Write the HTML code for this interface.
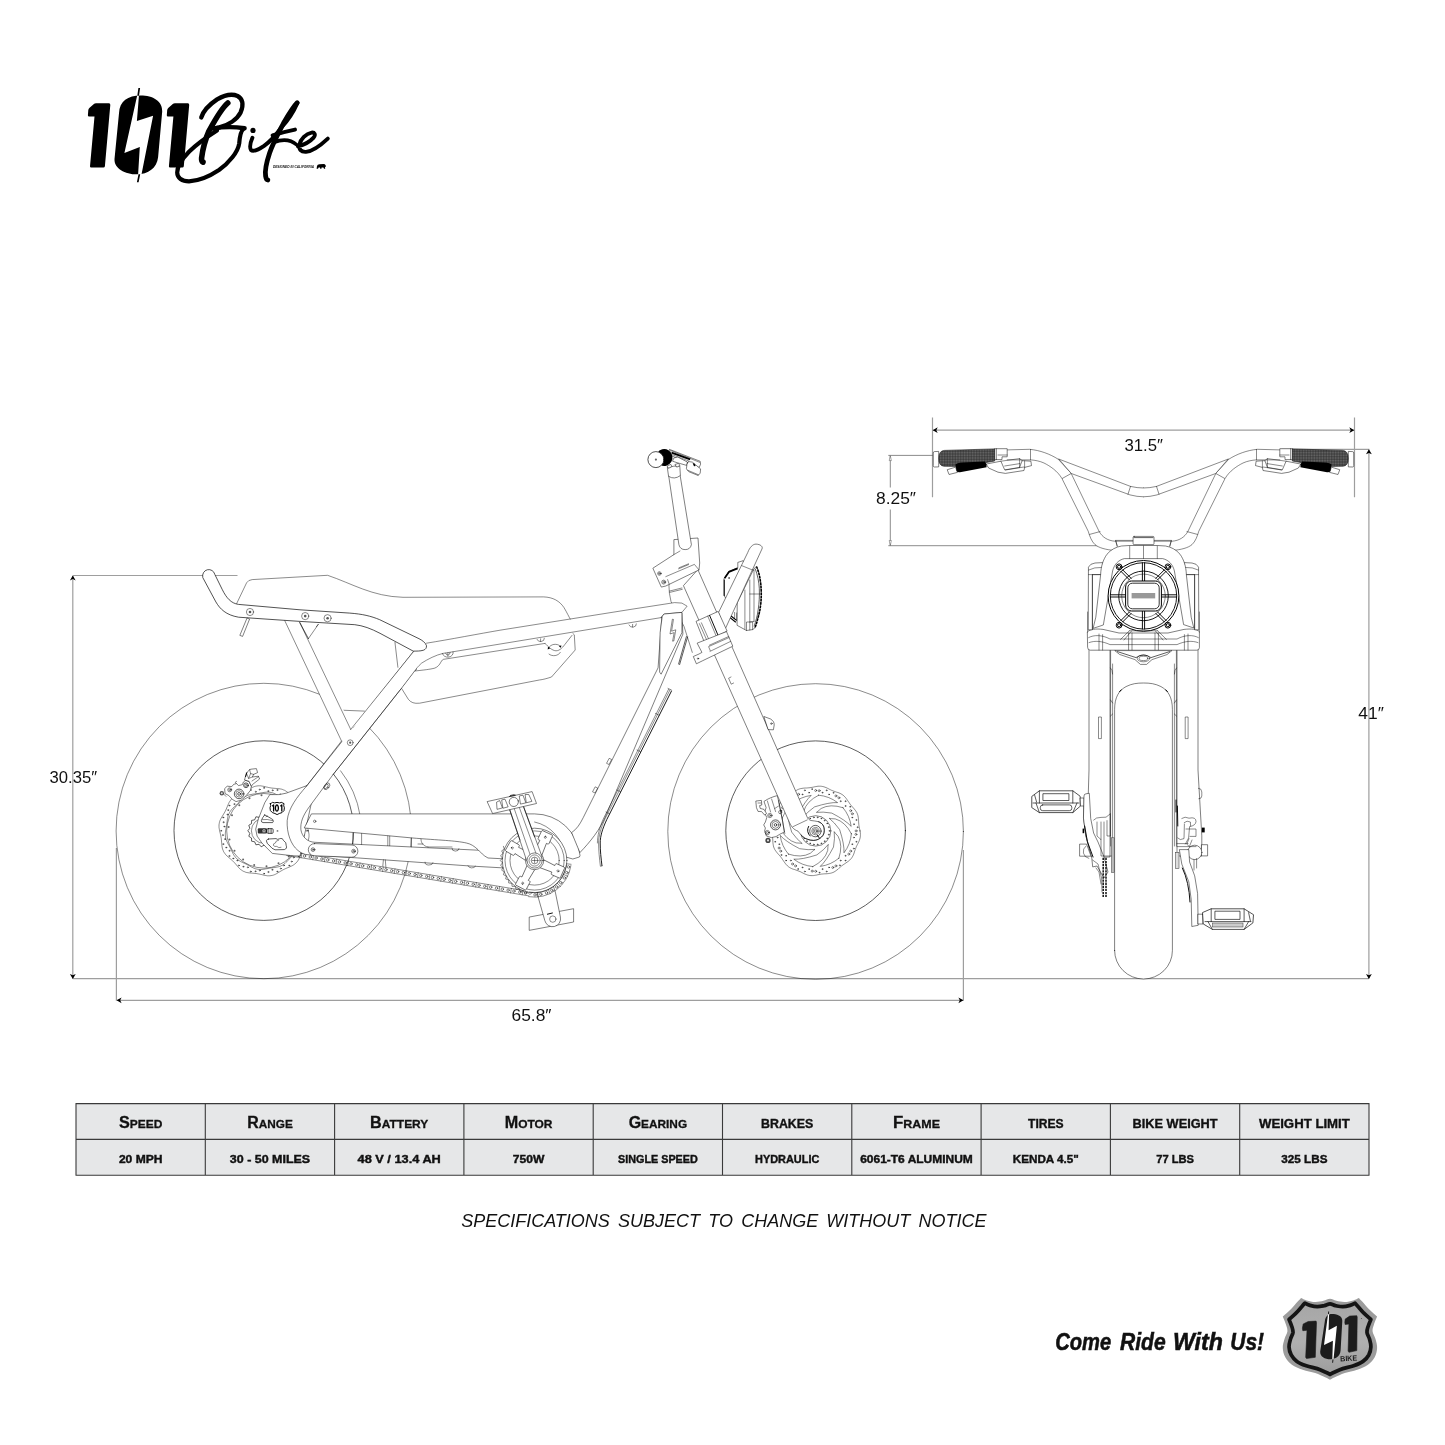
<!DOCTYPE html>
<html><head><meta charset="utf-8"><title>101 Bike specifications</title>
<style>
html,body{margin:0;padding:0;background:#fff;}
body{width:1445px;height:1445px;overflow:hidden;position:relative;font-family:"Liberation Sans",sans-serif;}
svg{position:absolute;left:0;top:0;will-change:transform;}
svg text{font-family:"Liberation Sans",sans-serif;}
.t{fill:none;stroke:#000;stroke-width:.46;stroke-linecap:round;stroke-linejoin:round}
.m{fill:none;stroke:#000;stroke-width:.64;stroke-linecap:round;stroke-linejoin:round}
.k{fill:none;stroke:#000;stroke-width:.95;stroke-linecap:round;stroke-linejoin:round}
.w{fill:#fff;stroke:#000;stroke-width:.5;stroke-linecap:round;stroke-linejoin:round}
.wm{fill:#fff;stroke:#000;stroke-width:.68;stroke-linecap:round;stroke-linejoin:round}
.d{fill:none;stroke:#9e9e9e;stroke-width:1.2}
.d2{fill:none;stroke:#6e6e6e;stroke-width:.8}
.b{fill:#000;stroke:none}
.dim{font-size:16.5px;fill:#111}
</style></head><body>
<svg width="1445" height="1445" viewBox="0 0 1445 1445">
<!-- logo.svg -->
<g id="logo">
<defs><path id="one" d="M87.9 115.3 L88.3 109.9 Q88.6 108.6 89.6 107.8 L94.2 103.8 Q94.9 103.3 96 103.3 L109 103.3 Q110.4 103.4 110.3 104.9 L104.9 166.2 Q104.7 167.6 103.4 167.6 L91.2 167.6 Q89.9 167.6 90 166.2 L94.5 116.5 L89.1 116.5 Q87.8 116.5 87.9 115.3 Z"/></defs>
<use href="#one" fill="#000"/>
<use href="#one" fill="#000" transform="translate(78.9 0)"/>
<path fill="#000" d="M119 113.2 C119.5 101 128 95.4 140.6 95.4 C153 95.4 162.8 101 162.2 111.6 L158.1 157.2 C157 168 148 174.3 137 174.3 C125 174.3 114 168.5 114.5 158.9 Z"/>
<path fill="#fff" d="M137.3 95 L139 95 L136.9 121.1 L153.1 115.7 L141.5 174.6 L138.1 174.6 L139.8 146.9 L124.4 153.1 Z"/>
<path fill="#000" d="M138.4 87.9 L140.1 87.9 L139 95.8 L137.3 95.8 Z M140.2 174.3 L138.5 174.3 L136.9 182.2 L138.6 182.2 Z"/>
<!-- script Bike -->
<g fill="none" stroke="#000" stroke-linecap="round" stroke-linejoin="round">
<path stroke-width="5.6" d="M227.8 103 C222 108 216 118 209 131 C205 140 202.6 150 201.6 158 C201.4 160.5 202 161.8 203 162.2"/>
<path stroke-width="4.4" d="M201.3 117.4 C203 112 208 105.5 217.1 99.4 C224 95.4 232 93.6 237.6 96 C242.6 98.6 244 104.5 240.6 112.4 C237 119.5 228 125 219.4 127.4 L213.6 128.6"/>
<path stroke-width="4.4" d="M213.8 128.4 C222 127 232 126.4 244.6 128.2"/>
<path stroke-width="4.2" d="M243.4 128.8 C240.6 131 239.8 136 239.2 143.5 C238 152 229 163 219 170 C210 176 198 181 189 181.3 C182 181.3 177.2 178 177.2 172.6 C177.2 166 182 159 189 151.8 C196 145 206 137.6 217 130.6"/>
<circle cx="253" cy="130.4" r="2.6" fill="#000" stroke="none"/>
<path stroke-width="3.9" d="M252.4 137.8 C250.6 142 249.4 147.4 251 150 C253 152 259 149.4 264.1 145.9 C270 141.6 276 135 281 128 C288.5 120 294 111 297.4 103"/>
<path stroke-width="4.8" d="M297.2 102.8 C293 107 288 115.5 283.6 123 C279 132 273 143 269.6 153 C266.6 162 264.8 171 265.6 176 C266 178.6 266.8 179.8 267.8 180"/>
<path stroke-width="4" d="M272.6 135.4 C280 133 288 131 295 129.6"/>
<path stroke-width="3.6" d="M274 142.4 C282 139 290 139 297 145"/>
<path stroke-width="3.9" d="M298 146.4 C303 145 310 141.6 313.6 137.6 C316 134.6 314.6 132.2 311.6 132.6 C306 133.6 300.6 139 299.4 144.6 C298.6 149.4 301 152.2 306 151.9 C313 151.2 321 145 327.8 138.6"/>
</g>
<text x="272.9" y="168.1" font-size="3.5" font-weight="700" font-style="italic" fill="#111" textLength="41.2" lengthAdjust="spacingAndGlyphs">DESIGNED IN CALIFORNIA</text>
<path fill="#000" d="M316.6 168.8 L317 166 Q317.4 164.4 319.4 164.3 L323.6 164.1 Q325 164.2 325.6 165.2 L326 166.4 L325 167 L325.2 168.8 L324 168.8 L323.4 167.4 L321.6 167.4 L321.4 168.8 L320.2 168.8 L320 167.6 L318.6 167.6 L318 168.8 Z"/>
</g>

<!-- dims.svg -->
<g id="dims">
<defs>
<path id="ah" d="M0 0 L-2.9 5 L0 3.6 L2.9 5 Z" fill="#000"/>
<path id="aho" d="M0 0 L-1.1 5 L1.1 5 Z" fill="#fff" stroke="#555" stroke-width=".5"/>
</defs>
<!-- ground line -->
<path class="d" d="M72.8 978.7 H1368.9"/>
<!-- left height -->
<path class="d" d="M72.8 576 V978.5 M72.8 575.5 H237.5"/>
<use href="#ah" transform="translate(72.8 575.5)"/>
<use href="#ah" transform="translate(72.8 978.9) rotate(180)"/>
<text class="dim" x="49.6" y="783.4" style="font-size:17px" textLength="47.5" lengthAdjust="spacingAndGlyphs">30.35″</text>
<!-- bottom length -->
<path class="d" d="M116.4 848 V1000.8 M963.4 850 V1000.8 M117 1000.3 H963"/>
<use href="#ah" transform="translate(116.6 1000.3) rotate(-90)"/>
<use href="#ah" transform="translate(963.4 1000.3) rotate(90)"/>
<text class="dim" x="511.5" y="1021.3" style="font-size:17px" textLength="40" lengthAdjust="spacingAndGlyphs">65.8″</text>
<!-- top width -->
<path class="d" d="M932.5 417.4 V497.2 M1354.5 417.4 V497.2 M933 430.2 H1354"/>
<use href="#ah" transform="translate(932.7 430.2) rotate(-90)"/>
<use href="#ah" transform="translate(1354.3 430.2) rotate(90)"/>
<text class="dim" x="1124.5" y="450.8" style="font-size:16px" textLength="38.5" lengthAdjust="spacingAndGlyphs">31.5″</text>
<!-- 8.25 -->
<path class="d2" d="M888.3 455.4 H933 M888.3 545.7 H1116 M890.3 456 V487.5 M890.3 509.5 V545.3"/>
<use href="#aho" transform="translate(890.3 455.6)"/>
<use href="#aho" transform="translate(890.3 545.5) rotate(180)"/>
<text class="dim" x="876" y="503.8" style="font-size:16px" textLength="40" lengthAdjust="spacingAndGlyphs">8.25″</text>
<!-- 41 -->
<path class="d" d="M1281.4 449.3 H1369.4 M1368.9 450 V978.5"/>
<use href="#ah" transform="translate(1368.9 449.3)"/>
<use href="#ah" transform="translate(1368.9 978.9) rotate(180)"/>
<text class="dim" x="1358.3" y="718.9" style="font-size:16px" textLength="25.5" lengthAdjust="spacingAndGlyphs">41″</text>
</g>

<!-- side.svg -->
<g id="side">
<circle class="t" cx="263.8" cy="831" r="147.7"/>
<circle class="m" cx="263.8" cy="830.6" r="89.8"/>
<circle class="t" cx="815.6" cy="831.5" r="147.8"/>
<circle class="m" cx="815.6" cy="830.7" r="89.8"/>
<path class="t" d="M340.6 770.8 A97.5 97.5 0 0 1 360.1 815.5"/>
<g id="rrotor">
<path class="t" d="M308.4 830.8 L308.6 832 L308.8 833.1 L309 834.3 L309 835.5 L309 836.7 L308.8 837.9 L308.6 839.1 L308.3 840.2 L307.9 841.3 L307.4 842.4 L306.8 843.5 L306.2 844.5 L305.6 845.5 L305 846.5 L304.4 847.5 L303.8 848.5 L303.2 849.5 L302.7 850.5 L302.2 851.5 L301.7 852.6 L301.3 853.6 L300.8 854.7 L300.4 855.8 L299.9 856.9 L299.4 858 L298.9 859.1 L298.3 860.1 L297.6 861.1 L296.9 862 L296.1 862.9 L295.2 863.7 L294.3 864.4 L293.3 865.1 L292.3 865.7 L291.2 866.2 L290.1 866.7 L289 867.2 L287.9 867.6 L286.8 868.1 L285.8 868.5 L284.7 869 L283.7 869.5 L282.7 870 L281.7 870.6 L280.7 871.2 L279.7 871.8 L278.7 872.4 L277.7 873 L276.7 873.6 L275.6 874.2 L274.5 874.7 L273.4 875.1 L272.3 875.4 L271.1 875.6 L269.9 875.8 L268.7 875.8 L267.5 875.8 L266.3 875.6 L265.2 875.4 L264 875.2 L262.8 874.9 L261.7 874.6 L260.6 874.4 L259.4 874.1 L258.3 873.9 L257.2 873.7 L256.1 873.5 L254.9 873.4 L253.8 873.3 L252.6 873.2 L251.5 873.1 L250.3 873 L249.1 872.9 L247.9 872.7 L246.7 872.5 L245.6 872.2 L244.5 871.7 L243.4 871.3 L242.4 870.7 L241.4 870 L240.4 869.3 L239.5 868.5 L238.7 867.6 L237.9 866.7 L237.1 865.8 L236.4 864.9 L235.6 864 L234.9 863.2 L234.1 862.3 L233.3 861.5 L232.5 860.7 L231.6 859.9 L230.8 859.2 L229.9 858.4 L229 857.7 L228.1 856.9 L227.2 856.1 L226.3 855.3 L225.5 854.4 L224.8 853.4 L224.1 852.4 L223.5 851.4 L223.1 850.3 L222.6 849.2 L222.3 848.1 L222.1 846.9 L221.9 845.7 L221.8 844.5 L221.7 843.3 L221.6 842.2 L221.5 841 L221.4 839.9 L221.3 838.7 L221.1 837.6 L220.9 836.5 L220.7 835.4 L220.4 834.2 L220.2 833.1 L219.9 832 L219.6 830.8 L219.4 829.6 L219.2 828.5 L219 827.3 L219 826.1 L219 824.9 L219.2 823.7 L219.4 822.5 L219.7 821.4 L220.1 820.3 L220.6 819.2 L221.2 818.1 L221.8 817.1 L222.4 816.1 L223 815.1 L223.6 814.1 L224.2 813.1 L224.8 812.1 L225.3 811.1 L225.8 810.1 L226.3 809 L226.7 808 L227.2 806.9 L227.6 805.8 L228.1 804.7 L228.6 803.6 L229.1 802.5 L229.7 801.5 L230.4 800.5 L231.1 799.6 L231.9 798.7 L232.8 797.9 L233.7 797.2 L234.7 796.5 L235.7 795.9 L236.8 795.4 L237.9 794.9 L239 794.4 L240.1 794 L241.2 793.5 L242.2 793.1 L243.3 792.6 L244.3 792.1 L245.3 791.6 L246.3 791 L247.3 790.4 L248.3 789.8 L249.3 789.2 L250.3 788.6 L251.3 788 L252.4 787.4 L253.5 786.9 L254.6 786.5 L255.7 786.2 L256.9 786 L258.1 785.8 L259.3 785.8 L260.5 785.8 L261.7 786 L262.8 786.2 L264 786.4 L265.2 786.7 L266.3 787 L267.4 787.2 L268.6 787.5 L269.7 787.7 L270.8 787.9 L271.9 788.1 L273.1 788.2 L274.2 788.3 L275.4 788.4 L276.5 788.5 L277.7 788.6 L278.9 788.7 L280.1 788.9 L281.3 789.1 L282.4 789.4 L283.5 789.9 L284.6 790.3 L285.6 790.9 L286.6 791.6 L287.6 792.3 L288.5 793.1 L289.3 794 L290.1 794.9 L290.9 795.8 L291.6 796.7 L292.4 797.6 L293.1 798.4 L293.9 799.3 L294.7 800.1 L295.5 800.9 L296.4 801.7 L297.2 802.4 L298.1 803.2 L299 803.9 L299.9 804.7 L300.8 805.5 L301.7 806.3 L302.5 807.2 L303.2 808.2 L303.9 809.2 L304.5 810.2 L304.9 811.3 L305.4 812.4 L305.7 813.5 L305.9 814.7 L306.1 815.9 L306.2 817.1 L306.3 818.3 L306.4 819.4 L306.5 820.6 L306.6 821.7 L306.7 822.9 L306.9 824 L307.1 825.1 L307.3 826.2 L307.6 827.4 L307.8 828.5 L308.1 829.6 L308.4 830.8Z"/>
<path class="t" d="M302.4 830.8 L302.2 831.8 L302 832.8 L301.9 833.8 L301.7 834.8 L301.5 835.7 L301.3 836.7 L301.2 837.7 L301.1 838.7 L300.9 839.7 L300.8 840.7 L300.7 841.7 L300.5 842.7 L300.3 843.7 L300.1 844.7 L299.9 845.7 L299.6 846.6 L299.2 847.6 L298.7 848.5 L298.3 849.4 L297.7 850.3 L297.1 851.1 L296.5 851.9 L295.8 852.6 L295.1 853.4 L294.3 854.1 L293.6 854.8 L292.9 855.5 L292.2 856.1 L291.4 856.8 L290.7 857.5 L290 858.2 L289.3 859 L288.7 859.7 L288 860.4 L287.3 861.1 L286.6 861.9 L285.8 862.6 L285.1 863.3 L284.3 863.9 L283.5 864.5 L282.6 865.1 L281.7 865.5 L280.8 866 L279.8 866.4 L278.9 866.7 L277.9 866.9 L276.9 867.1 L275.9 867.3 L274.9 867.5 L273.9 867.6 L272.9 867.7 L271.9 867.9 L270.9 868 L269.9 868.1 L268.9 868.3 L268 868.5 L267 868.7 L266 868.8 L265 869 L264 869.2 L263 869.3 L262 869.4 L261 869.5 L259.9 869.5 L258.9 869.4 L257.9 869.3 L256.9 869.1 L255.9 868.9 L254.9 868.6 L254 868.2 L253 867.8 L252.1 867.3 L251.2 866.9 L250.3 866.4 L249.5 865.9 L248.6 865.4 L247.7 864.9 L246.8 864.5 L246 864 L245.1 863.6 L244.2 863.2 L243.2 862.8 L242.3 862.3 L241.4 861.9 L240.5 861.4 L239.6 860.9 L238.8 860.3 L238 859.7 L237.2 859.1 L236.4 858.4 L235.7 857.6 L235.1 856.8 L234.5 856 L233.9 855.2 L233.4 854.3 L232.9 853.4 L232.5 852.5 L232 851.6 L231.6 850.6 L231.2 849.7 L230.8 848.8 L230.3 848 L229.9 847.1 L229.4 846.2 L228.9 845.3 L228.4 844.5 L227.9 843.6 L227.5 842.7 L227 841.8 L226.6 840.8 L226.2 839.9 L225.9 838.9 L225.7 837.9 L225.5 836.9 L225.4 835.9 L225.3 834.9 L225.3 833.8 L225.4 832.8 L225.5 831.8 L225.6 830.8 L225.8 829.8 L226 828.8 L226.1 827.8 L226.3 826.8 L226.5 825.9 L226.7 824.9 L226.8 823.9 L226.9 822.9 L227.1 821.9 L227.2 820.9 L227.3 819.9 L227.5 818.9 L227.7 817.9 L227.9 816.9 L228.1 815.9 L228.4 815 L228.8 814 L229.3 813.1 L229.7 812.2 L230.3 811.3 L230.9 810.5 L231.5 809.7 L232.2 809 L232.9 808.2 L233.7 807.5 L234.4 806.8 L235.1 806.1 L235.8 805.5 L236.6 804.8 L237.3 804.1 L238 803.4 L238.7 802.6 L239.3 801.9 L240 801.2 L240.7 800.5 L241.4 799.7 L242.2 799 L242.9 798.3 L243.7 797.7 L244.5 797.1 L245.4 796.5 L246.3 796.1 L247.2 795.6 L248.2 795.2 L249.1 794.9 L250.1 794.7 L251.1 794.5 L252.1 794.3 L253.1 794.1 L254.1 794 L255.1 793.9 L256.1 793.7 L257.1 793.6 L258.1 793.5 L259.1 793.3 L260 793.1 L261 792.9 L262 792.8 L263 792.6 L264 792.4 L265 792.3 L266 792.2 L267 792.1 L268.1 792.1 L269.1 792.2 L270.1 792.3 L271.1 792.5 L272.1 792.7 L273.1 793 L274 793.4 L275 793.8 L275.9 794.3 L276.8 794.7 L277.7 795.2 L278.5 795.7 L279.4 796.2 L280.3 796.7 L281.2 797.1 L282 797.6 L282.9 798 L283.8 798.4 L284.8 798.8 L285.7 799.3 L286.6 799.7 L287.5 800.2 L288.4 800.7 L289.2 801.3 L290 801.9 L290.8 802.5 L291.6 803.2 L292.3 804 L292.9 804.8 L293.5 805.6 L294.1 806.4 L294.6 807.3 L295.1 808.2 L295.5 809.1 L296 810 L296.4 811 L296.8 811.9 L297.2 812.8 L297.7 813.6 L298.1 814.5 L298.6 815.4 L299.1 816.3 L299.6 817.1 L300.1 818 L300.5 818.9 L301 819.8 L301.4 820.8 L301.8 821.7 L302.1 822.7 L302.3 823.7 L302.5 824.7 L302.6 825.7 L302.7 826.7 L302.7 827.8 L302.6 828.8 L302.5 829.8 L302.4 830.8Z"/>
<circle cx="306.9" cy="830.8" r=".55" class="t"/>
<circle cx="303.7" cy="835" r=".55" class="t"/>
<circle cx="304.5" cy="839.4" r=".55" class="t"/>
<circle cx="304.8" cy="844.1" r=".55" class="t"/>
<circle cx="300.5" cy="847" r=".55" class="t"/>
<circle cx="299.9" cy="851.5" r=".55" class="t"/>
<circle cx="298.7" cy="856" r=".55" class="t"/>
<circle cx="293.7" cy="857.5" r=".55" class="t"/>
<circle cx="291.7" cy="861.6" r=".55" class="t"/>
<circle cx="289.2" cy="865.5" r=".55" class="t"/>
<circle cx="283.9" cy="865.4" r=".55" class="t"/>
<circle cx="280.8" cy="868.6" r=".55" class="t"/>
<circle cx="277.3" cy="871.6" r=".55" class="t"/>
<circle cx="272.3" cy="869.8" r=".55" class="t"/>
<circle cx="268.3" cy="872" r=".55" class="t"/>
<circle cx="264" cy="873.7" r=".55" class="t"/>
<circle cx="259.8" cy="870.5" r=".55" class="t"/>
<circle cx="255.4" cy="871.3" r=".55" class="t"/>
<circle cx="250.7" cy="871.6" r=".55" class="t"/>
<circle cx="247.8" cy="867.3" r=".55" class="t"/>
<circle cx="243.3" cy="866.7" r=".55" class="t"/>
<circle cx="238.8" cy="865.5" r=".55" class="t"/>
<circle cx="237.3" cy="860.5" r=".55" class="t"/>
<circle cx="233.2" cy="858.5" r=".55" class="t"/>
<circle cx="229.3" cy="856" r=".55" class="t"/>
<circle cx="229.4" cy="850.8" r=".55" class="t"/>
<circle cx="226.2" cy="847.6" r=".55" class="t"/>
<circle cx="223.2" cy="844.1" r=".55" class="t"/>
<circle cx="225" cy="839.1" r=".55" class="t"/>
<circle cx="222.8" cy="835.1" r=".55" class="t"/>
<circle cx="221.1" cy="830.8" r=".55" class="t"/>
<circle cx="224.3" cy="826.6" r=".55" class="t"/>
<circle cx="223.5" cy="822.2" r=".55" class="t"/>
<circle cx="223.2" cy="817.5" r=".55" class="t"/>
<circle cx="227.5" cy="814.6" r=".55" class="t"/>
<circle cx="228.1" cy="810.1" r=".55" class="t"/>
<circle cx="229.3" cy="805.6" r=".55" class="t"/>
<circle cx="234.3" cy="804.1" r=".55" class="t"/>
<circle cx="236.3" cy="800" r=".55" class="t"/>
<circle cx="238.8" cy="796.1" r=".55" class="t"/>
<circle cx="244" cy="796.2" r=".55" class="t"/>
<circle cx="247.2" cy="793" r=".55" class="t"/>
<circle cx="250.7" cy="790" r=".55" class="t"/>
<circle cx="255.7" cy="791.8" r=".55" class="t"/>
<circle cx="259.7" cy="789.6" r=".55" class="t"/>
<circle cx="264" cy="787.9" r=".55" class="t"/>
<circle cx="268.2" cy="791.1" r=".55" class="t"/>
<circle cx="272.6" cy="790.3" r=".55" class="t"/>
<circle cx="277.3" cy="790" r=".55" class="t"/>
<circle cx="280.2" cy="794.3" r=".55" class="t"/>
<circle cx="284.7" cy="794.9" r=".55" class="t"/>
<circle cx="289.2" cy="796.1" r=".55" class="t"/>
<circle cx="290.7" cy="801.1" r=".55" class="t"/>
<circle cx="294.8" cy="803.1" r=".55" class="t"/>
<circle cx="298.7" cy="805.6" r=".55" class="t"/>
<circle cx="298.6" cy="810.9" r=".55" class="t"/>
<circle cx="301.8" cy="814" r=".55" class="t"/>
<circle cx="304.8" cy="817.5" r=".55" class="t"/>
<circle cx="303" cy="822.5" r=".55" class="t"/>
<circle cx="305.2" cy="826.5" r=".55" class="t"/>
<circle class="t" cx="264" cy="830.8" r="37.3"/>
<circle cx="299.4" cy="834.5" r="1" fill="#666"/>
<circle cx="296" cy="846.4" r="1" fill="#666"/>
<circle cx="288.7" cy="856.4" r="1" fill="#666"/>
<circle cx="278.5" cy="863.3" r="1" fill="#666"/>
<circle cx="266.5" cy="866.3" r="1" fill="#666"/>
<circle cx="254.2" cy="865" r="1" fill="#666"/>
<circle cx="243.1" cy="859.6" r="1" fill="#666"/>
<circle cx="234.5" cy="850.7" r="1" fill="#666"/>
<circle cx="229.5" cy="839.4" r="1" fill="#666"/>
<circle cx="228.6" cy="827.1" r="1" fill="#666"/>
<circle cx="232" cy="815.2" r="1" fill="#666"/>
<circle cx="239.3" cy="805.2" r="1" fill="#666"/>
<circle cx="249.5" cy="798.3" r="1" fill="#666"/>
<circle cx="261.5" cy="795.3" r="1" fill="#666"/>
<circle cx="273.8" cy="796.6" r="1" fill="#666"/>
<circle cx="284.9" cy="802" r="1" fill="#666"/>
<circle cx="293.5" cy="810.9" r="1" fill="#666"/>
<circle cx="298.5" cy="822.2" r="1" fill="#666"/>
</g>
<path class="m" d="M280.2 830.8 L278.2 833.3 L279.2 836.3 L276.5 838 L276.4 841.2 L273.3 841.8 L272.1 844.8 L268.9 844.3 L266.8 846.8 L264 845.2 L261.2 846.8 L259.1 844.3 L255.9 844.8 L254.7 841.8 L251.6 841.2 L251.5 838 L248.8 836.3 L249.8 833.3 L247.8 830.8 L249.8 828.3 L248.8 825.3 L251.5 823.6 L251.6 820.4 L254.7 819.8 L255.9 816.8 L259.1 817.3 L261.2 814.8 L264 816.4 L266.8 814.8 L268.9 817.3 L272.1 816.8 L273.3 819.8 L276.4 820.4 L276.5 823.6 L279.2 825.3 L278.2 828.3 L280.2 830.8Z"/>
<circle class="t" cx="264" cy="830.8" r="12.6"/>
<g id="frotor">
<path class="t" d="M860 830.9 L860.2 832.1 L860.4 833.2 L860.4 834.4 L860.4 835.6 L860.3 836.8 L860.1 837.9 L859.8 839.1 L859.4 840.2 L859 841.3 L858.5 842.4 L858 843.4 L857.4 844.5 L856.9 845.5 L856.4 846.5 L856 847.6 L855.6 848.6 L855.2 849.7 L854.8 850.8 L854.4 851.9 L854.1 853 L853.7 854.2 L853.2 855.3 L852.7 856.3 L852.1 857.3 L851.4 858.3 L850.6 859.2 L849.8 860 L848.9 860.8 L848 861.5 L847 862.2 L846 862.9 L845.1 863.5 L844.1 864.2 L843.2 864.8 L842.2 865.5 L841.3 866.2 L840.5 866.9 L839.6 867.7 L838.7 868.5 L837.9 869.3 L836.9 870 L836 870.7 L835 871.4 L834 872 L832.9 872.5 L831.8 872.9 L830.7 873.2 L829.5 873.4 L828.3 873.6 L827.2 873.7 L826 873.8 L824.8 873.8 L823.7 873.9 L822.5 874 L821.4 874.1 L820.3 874.3 L819.1 874.5 L818 874.7 L816.9 875 L815.7 875.2 L814.5 875.4 L813.4 875.6 L812.2 875.6 L811 875.6 L809.8 875.5 L808.7 875.3 L807.5 875 L806.4 874.6 L805.3 874.2 L804.2 873.7 L803.2 873.2 L802.1 872.6 L801.1 872.1 L800.1 871.6 L799 871.2 L798 870.8 L796.9 870.4 L795.8 870 L794.7 869.6 L793.6 869.3 L792.4 868.9 L791.3 868.4 L790.3 867.9 L789.3 867.3 L788.3 866.6 L787.4 865.8 L786.6 865 L785.8 864.1 L785.1 863.2 L784.4 862.2 L783.7 861.2 L783.1 860.3 L782.4 859.3 L781.8 858.4 L781.1 857.4 L780.4 856.5 L779.7 855.7 L778.9 854.8 L778.1 853.9 L777.3 853 L776.6 852.1 L775.9 851.2 L775.2 850.2 L774.6 849.2 L774.1 848.1 L773.7 847 L773.4 845.9 L773.2 844.7 L773 843.5 L772.9 842.4 L772.8 841.2 L772.8 840 L772.7 838.9 L772.6 837.7 L772.5 836.6 L772.3 835.5 L772.1 834.3 L771.9 833.2 L771.6 832.1 L771.4 830.9 L771.2 829.7 L771 828.6 L771 827.4 L771 826.2 L771.1 825 L771.3 823.9 L771.6 822.7 L772 821.6 L772.4 820.5 L772.9 819.4 L773.4 818.4 L774 817.3 L774.5 816.3 L775 815.3 L775.4 814.2 L775.8 813.2 L776.2 812.1 L776.6 811 L777 809.9 L777.3 808.8 L777.7 807.6 L778.2 806.5 L778.7 805.5 L779.3 804.5 L780 803.5 L780.8 802.6 L781.6 801.8 L782.5 801 L783.4 800.3 L784.4 799.6 L785.4 798.9 L786.3 798.3 L787.3 797.6 L788.2 797 L789.2 796.3 L790.1 795.6 L790.9 794.9 L791.8 794.1 L792.7 793.3 L793.6 792.5 L794.5 791.8 L795.4 791.1 L796.4 790.4 L797.4 789.8 L798.5 789.3 L799.6 788.9 L800.7 788.6 L801.9 788.4 L803.1 788.2 L804.2 788.1 L805.4 788 L806.6 788 L807.7 787.9 L808.9 787.8 L810 787.7 L811.1 787.5 L812.3 787.3 L813.4 787.1 L814.5 786.8 L815.7 786.6 L816.9 786.4 L818 786.2 L819.2 786.2 L820.4 786.2 L821.6 786.3 L822.7 786.5 L823.9 786.8 L825 787.2 L826.1 787.6 L827.2 788.1 L828.2 788.6 L829.3 789.2 L830.3 789.7 L831.3 790.2 L832.4 790.6 L833.4 791 L834.5 791.4 L835.6 791.8 L836.7 792.2 L837.9 792.5 L839 792.9 L840.1 793.4 L841.1 793.9 L842.1 794.5 L843.1 795.2 L844 796 L844.8 796.8 L845.6 797.7 L846.3 798.6 L847 799.6 L847.7 800.6 L848.3 801.5 L849 802.5 L849.6 803.4 L850.3 804.4 L851 805.3 L851.7 806.1 L852.5 807 L853.3 807.9 L854.1 808.8 L854.8 809.7 L855.5 810.6 L856.2 811.6 L856.8 812.6 L857.3 813.7 L857.7 814.8 L858 815.9 L858.2 817.1 L858.4 818.3 L858.5 819.4 L858.6 820.6 L858.6 821.8 L858.7 822.9 L858.8 824.1 L858.9 825.2 L859.1 826.3 L859.3 827.5 L859.5 828.6 L859.8 829.7 L860 830.9Z"/>
<circle cx="856.1" cy="830.9" r="1.0" class="t"/>
<circle cx="855.9" cy="834.4" r="1.0" class="t"/>
<circle cx="853.9" cy="837.6" r=".5" class="t"/>
<circle cx="856.3" cy="841.8" r=".5" class="t"/>
<circle cx="852.2" cy="844.2" r=".5" class="t"/>
<circle cx="853.8" cy="848.6" r=".5" class="t"/>
<circle cx="850.7" cy="851.1" r="1.0" class="t"/>
<circle cx="848.8" cy="854.1" r="1.0" class="t"/>
<circle cx="845.4" cy="855.8" r=".5" class="t"/>
<circle cx="845.4" cy="860.6" r=".5" class="t"/>
<circle cx="840.6" cy="860.6" r=".5" class="t"/>
<circle cx="839.8" cy="865.3" r=".5" class="t"/>
<circle cx="835.9" cy="865.9" r="1.0" class="t"/>
<circle cx="832.8" cy="867.5" r="1.0" class="t"/>
<circle cx="829" cy="867.4" r=".5" class="t"/>
<circle cx="826.6" cy="871.5" r=".5" class="t"/>
<circle cx="822.4" cy="869.1" r=".5" class="t"/>
<circle cx="819.4" cy="872.7" r=".5" class="t"/>
<circle cx="815.7" cy="871.3" r="1.0" class="t"/>
<circle cx="812.2" cy="871.1" r="1.0" class="t"/>
<circle cx="809" cy="869.1" r=".5" class="t"/>
<circle cx="804.8" cy="871.5" r=".5" class="t"/>
<circle cx="802.4" cy="867.4" r=".5" class="t"/>
<circle cx="798" cy="869" r=".5" class="t"/>
<circle cx="795.5" cy="865.9" r="1.0" class="t"/>
<circle cx="792.5" cy="864" r="1.0" class="t"/>
<circle cx="790.8" cy="860.6" r=".5" class="t"/>
<circle cx="786" cy="860.6" r=".5" class="t"/>
<circle cx="786" cy="855.8" r=".5" class="t"/>
<circle cx="781.3" cy="855" r=".5" class="t"/>
<circle cx="780.7" cy="851.1" r="1.0" class="t"/>
<circle cx="779.1" cy="848" r="1.0" class="t"/>
<circle cx="779.2" cy="844.2" r=".5" class="t"/>
<circle cx="775.1" cy="841.8" r=".5" class="t"/>
<circle cx="777.5" cy="837.6" r=".5" class="t"/>
<circle cx="773.9" cy="834.6" r=".5" class="t"/>
<circle cx="775.3" cy="830.9" r="1.0" class="t"/>
<circle cx="775.5" cy="827.4" r="1.0" class="t"/>
<circle cx="777.5" cy="824.2" r=".5" class="t"/>
<circle cx="775.1" cy="820" r=".5" class="t"/>
<circle cx="779.2" cy="817.6" r=".5" class="t"/>
<circle cx="777.6" cy="813.2" r=".5" class="t"/>
<circle cx="780.7" cy="810.7" r="1.0" class="t"/>
<circle cx="782.6" cy="807.7" r="1.0" class="t"/>
<circle cx="786" cy="806" r=".5" class="t"/>
<circle cx="786" cy="801.2" r=".5" class="t"/>
<circle cx="790.8" cy="801.2" r=".5" class="t"/>
<circle cx="791.6" cy="796.5" r=".5" class="t"/>
<circle cx="795.5" cy="795.9" r="1.0" class="t"/>
<circle cx="798.6" cy="794.3" r="1.0" class="t"/>
<circle cx="802.4" cy="794.4" r=".5" class="t"/>
<circle cx="804.8" cy="790.3" r=".5" class="t"/>
<circle cx="809" cy="792.7" r=".5" class="t"/>
<circle cx="812" cy="789.1" r=".5" class="t"/>
<circle cx="815.7" cy="790.5" r="1.0" class="t"/>
<circle cx="819.2" cy="790.7" r="1.0" class="t"/>
<circle cx="822.4" cy="792.7" r=".5" class="t"/>
<circle cx="826.6" cy="790.3" r=".5" class="t"/>
<circle cx="829" cy="794.4" r=".5" class="t"/>
<circle cx="833.4" cy="792.8" r=".5" class="t"/>
<circle cx="835.9" cy="795.9" r="1.0" class="t"/>
<circle cx="838.9" cy="797.8" r="1.0" class="t"/>
<circle cx="840.6" cy="801.2" r=".5" class="t"/>
<circle cx="845.4" cy="801.2" r=".5" class="t"/>
<circle cx="845.4" cy="806" r=".5" class="t"/>
<circle cx="850.1" cy="806.8" r=".5" class="t"/>
<circle cx="850.7" cy="810.7" r="1.0" class="t"/>
<circle cx="852.3" cy="813.8" r="1.0" class="t"/>
<circle cx="852.2" cy="817.6" r=".5" class="t"/>
<circle cx="856.3" cy="820" r=".5" class="t"/>
<circle cx="853.9" cy="824.2" r=".5" class="t"/>
<circle cx="857.5" cy="827.2" r=".5" class="t"/>
<path class="t" d="M851.4 833.8 A36.4 36.4 0 0 1 844 852.8 Q844.5 844.8 839.7 829.7 Q834.2 822 829.2 818.3 Q830.2 818.7 835.3 818.9 Q845.3 821.7 851.4 833.8 Z"/>
<path class="t" d="M838.9 858.2 A36.4 36.4 0 0 1 820.2 866.4 Q826.2 861.1 833.5 847 Q835.1 837.6 834.2 831.6 Q834.6 832.5 838.1 836.3 Q843.1 845.4 838.9 858.2 Z"/>
<path class="t" d="M812.8 866.6 A36.4 36.4 0 0 1 793.8 859.2 Q801.8 859.7 816.9 854.9 Q824.6 849.4 828.3 844.4 Q827.9 845.4 827.7 850.5 Q824.9 860.5 812.8 866.6 Z"/>
<path class="t" d="M788.4 854.1 A36.4 36.4 0 0 1 780.2 835.4 Q785.5 841.4 799.6 848.7 Q809 850.3 815 849.4 Q814.1 849.8 810.3 853.3 Q801.2 858.3 788.4 854.1 Z"/>
<path class="t" d="M780 828 A36.4 36.4 0 0 1 787.4 809 Q786.9 817 791.7 832.1 Q797.2 839.8 802.2 843.5 Q801.2 843.1 796.1 842.9 Q786.1 840.1 780 828 Z"/>
<path class="t" d="M792.5 803.6 A36.4 36.4 0 0 1 811.2 795.4 Q805.2 800.7 797.9 814.8 Q796.3 824.2 797.2 830.2 Q796.8 829.3 793.3 825.5 Q788.3 816.4 792.5 803.6 Z"/>
<path class="t" d="M818.6 795.2 A36.4 36.4 0 0 1 837.6 802.6 Q829.6 802.1 814.5 806.9 Q806.8 812.4 803.1 817.4 Q803.5 816.4 803.7 811.3 Q806.5 801.3 818.6 795.2 Z"/>
<path class="t" d="M843 807.7 A36.4 36.4 0 0 1 851.2 826.4 Q845.9 820.4 831.8 813.1 Q822.4 811.5 816.4 812.4 Q817.3 812 821.1 808.5 Q830.2 803.5 843 807.7 Z"/>
<circle class="w" cx="815.7" cy="830.9" r="15.2"/>
<circle cx="829.3" cy="830.9" r=".45" class="t"/>
<circle cx="828.7" cy="834.7" r=".45" class="t"/>
<circle cx="827.1" cy="838.3" r=".45" class="t"/>
<circle cx="824.6" cy="841.2" r=".45" class="t"/>
<circle cx="821.3" cy="843.3" r=".45" class="t"/>
<circle cx="817.6" cy="844.4" r=".45" class="t"/>
<circle cx="813.8" cy="844.4" r=".45" class="t"/>
<circle cx="810.1" cy="843.3" r=".45" class="t"/>
<circle cx="806.8" cy="841.2" r=".45" class="t"/>
<circle cx="804.3" cy="838.3" r=".45" class="t"/>
<circle cx="802.7" cy="834.7" r=".45" class="t"/>
<circle cx="802.1" cy="830.9" r=".45" class="t"/>
<circle cx="802.7" cy="827.1" r=".45" class="t"/>
<circle cx="804.3" cy="823.5" r=".45" class="t"/>
<circle cx="806.8" cy="820.6" r=".45" class="t"/>
<circle cx="810.1" cy="818.5" r=".45" class="t"/>
<circle cx="813.8" cy="817.4" r=".45" class="t"/>
<circle cx="817.6" cy="817.4" r=".45" class="t"/>
<circle cx="821.3" cy="818.5" r=".45" class="t"/>
<circle cx="824.6" cy="820.6" r=".45" class="t"/>
<circle cx="827.1" cy="823.5" r=".45" class="t"/>
<circle cx="828.7" cy="827.1" r=".45" class="t"/>
</g>
<g id="chain">
<path class="t" d="M286.6 855.3 L528.8 895.9 M287.4 850.9 L529.6 891.5"/>
<circle class="t" cx="287" cy="853.1" r="1.25"/>
<path class="t" d="M289.5 855.8 L290.2 851.4"/>
<circle class="t" cx="292.8" cy="854.1" r="1.25"/>
<circle class="t" cx="298.6" cy="855.1" r="1.25"/>
<path class="t" d="M301.1 857.7 L301.9 853.3"/>
<circle class="t" cx="304.5" cy="856" r="1.25"/>
<circle class="t" cx="310.3" cy="857" r="1.25"/>
<path class="t" d="M312.8 859.7 L313.5 855.3"/>
<circle class="t" cx="316.1" cy="858" r="1.25"/>
<circle class="t" cx="321.9" cy="859" r="1.25"/>
<path class="t" d="M324.4 861.7 L325.1 857.2"/>
<circle class="t" cx="327.7" cy="859.9" r="1.25"/>
<circle class="t" cx="333.6" cy="860.9" r="1.25"/>
<path class="t" d="M336 863.6 L336.8 859.2"/>
<circle class="t" cx="339.4" cy="861.9" r="1.25"/>
<circle class="t" cx="345.2" cy="862.9" r="1.25"/>
<path class="t" d="M347.7 865.6 L348.4 861.1"/>
<circle class="t" cx="351" cy="863.8" r="1.25"/>
<circle class="t" cx="356.8" cy="864.8" r="1.25"/>
<path class="t" d="M359.3 867.5 L360.1 863.1"/>
<circle class="t" cx="362.6" cy="865.8" r="1.25"/>
<circle class="t" cx="368.5" cy="866.8" r="1.25"/>
<path class="t" d="M371 869.5 L371.7 865"/>
<circle class="t" cx="374.3" cy="867.7" r="1.25"/>
<circle class="t" cx="380.1" cy="868.7" r="1.25"/>
<path class="t" d="M382.6 871.4 L383.3 867"/>
<circle class="t" cx="385.9" cy="869.7" r="1.25"/>
<circle class="t" cx="391.7" cy="870.7" r="1.25"/>
<path class="t" d="M394.2 873.4 L395 868.9"/>
<circle class="t" cx="397.6" cy="871.6" r="1.25"/>
<circle class="t" cx="403.4" cy="872.6" r="1.25"/>
<path class="t" d="M405.9 875.3 L406.6 870.9"/>
<circle class="t" cx="409.2" cy="873.6" r="1.25"/>
<circle class="t" cx="415" cy="874.6" r="1.25"/>
<path class="t" d="M417.5 877.3 L418.2 872.8"/>
<circle class="t" cx="420.8" cy="875.5" r="1.25"/>
<circle class="t" cx="426.7" cy="876.5" r="1.25"/>
<path class="t" d="M429.1 879.2 L429.9 874.8"/>
<circle class="t" cx="432.5" cy="877.5" r="1.25"/>
<circle class="t" cx="438.3" cy="878.5" r="1.25"/>
<path class="t" d="M440.8 881.2 L441.5 876.7"/>
<circle class="t" cx="444.1" cy="879.4" r="1.25"/>
<circle class="t" cx="449.9" cy="880.4" r="1.25"/>
<path class="t" d="M452.4 883.1 L453.2 878.7"/>
<circle class="t" cx="455.7" cy="881.4" r="1.25"/>
<circle class="t" cx="461.6" cy="882.4" r="1.25"/>
<path class="t" d="M464.1 885.1 L464.8 880.6"/>
<circle class="t" cx="467.4" cy="883.3" r="1.25"/>
<circle class="t" cx="473.2" cy="884.3" r="1.25"/>
<path class="t" d="M475.7 887 L476.4 882.6"/>
<circle class="t" cx="479" cy="885.3" r="1.25"/>
<circle class="t" cx="484.8" cy="886.3" r="1.25"/>
<path class="t" d="M487.3 889 L488.1 884.5"/>
<circle class="t" cx="490.7" cy="887.2" r="1.25"/>
<circle class="t" cx="496.5" cy="888.2" r="1.25"/>
<path class="t" d="M499 890.9 L499.7 886.5"/>
<circle class="t" cx="502.3" cy="889.2" r="1.25"/>
<circle class="t" cx="508.1" cy="890.2" r="1.25"/>
<path class="t" d="M510.6 892.9 L511.3 888.4"/>
<circle class="t" cx="513.9" cy="891.1" r="1.25"/>
<circle class="t" cx="519.8" cy="892.1" r="1.25"/>
<path class="t" d="M522.2 894.8 L523 890.4"/>
<circle class="t" cx="525.6" cy="893.1" r="1.25"/>
</g>
<!-- chain lower run placeholder is generated separately -->
<!-- dropout plate -->
<path class="w" d="M270.2 794.6 L279.2 794.6 L286.1 793.2 L306.9 785.6 L312 800 L300 856 L293 855.8 L272.3 853.4 L261.9 843 L257.1 836.1 L255.7 829.2 L258.4 818.8 L264.7 802.9 Z"/>
<!-- seat tube + U turn + chain stay tube -->
<path class="w" d="M413 652.1 L306.3 786.4 C297 797 288.5 808 287.2 820.5 C286.5 833 291 845 298 850.5 C301 853 304.5 854.6 308 854.8 L357.3 857.9 L470 866 L505 868 L505 851.5 L470 849.8 L314.9 842.3 C307 842 302 836.5 300.9 829.8 C300.3 822.5 302.5 816 309.6 806.4 L332.9 774.8 L416.3 669.6 Z"/>
<!-- link plate -->
<g transform="rotate(2.2 333 850.4)"><rect class="w" x="308.3" y="844.3" width="49.6" height="12.2" rx="6.1"/>
<circle class="t" cx="313" cy="850.4" r="1.9"/><circle class="t" cx="313" cy="850.4" r=".8"/>
<circle class="t" cx="353.6" cy="850.4" r="1.9"/><circle class="t" cx="353.6" cy="850.4" r=".8"/></g>
<!-- controller housing + chain guard -->
<path class="w" d="M311.8 813.9 H534.6 A45.6 45.6 0 0 1 580 855.5 L579.4 857 L572.8 859 L564.5 856.6 L503 858.8 L488 858 C483 855.5 481 852.5 478 849.7 C474 846 471 844 466.4 843 C455 840.5 440 840.3 411.5 837.9 L304.6 828 Z"/>
<path class="t" d="M534.6 822 A37.6 37.6 0 0 1 564.5 856.6"/>
<circle class="t" cx="314.7" cy="821.3" r="1.2"/>
<!-- dividers between housing bottom and stay top -->
<path class="t" d="M352.9 833 V844 M361.6 833.6 V844.4 M387.8 836 V845.6 M389.7 836.2 V845.7 M411.5 838 V846.8 M421 839 C421 843 423 846 428 847 M428 847 H452"/>
<!-- kickstand bracket below stay -->
<path class="t" d="M383.4 859.8 L382.8 866 M385.3 859.9 L385.9 867.2"/>
<path class="t" d="M425 862.2 a4 2.6 0 0 0 8 .5 M468 865.8 a4 2.8 0 0 0 7.5 .5 M418 844 h5 M452 848.5 a3.5 2.5 0 0 0 7 .2"/>

<g id="plate">
<!-- 101 mini shield -->
<path class="k" d="M270.4 803.6 Q271.6 803.2 272.4 802.4 Q274.6 803.4 277 802.4 Q279.6 803.4 281.8 802.4 Q282.8 803.2 284 803.6 Q283.2 805.6 284.4 807.8 Q284.8 811 282 812.6 Q279 813.4 277.1 814.6 Q275.2 813.4 272.4 812.6 Q269.6 811 270 807.8 Q271.2 805.6 270.4 803.6 Z" fill="#fff"/>
<path d="M272.2 806.2 l1.4 -1.2 v6.4 M276.9 805 a1.5 3.1 0 1 0 .01 0 M280.4 806.2 l1.4 -1.2 v6.4" fill="none" stroke="#000" stroke-width="1.3" stroke-linejoin="round"/>
<!-- shoe slot -->
<path class="m" d="M264.6 815 L266 815.6 Q270.6 818 272.8 819.6 Q274 821.6 272.6 822.6 L263 822.6 Q261 822.2 261.4 820.4 Q262.4 817.6 264.6 815 Z"/>
<path class="t" d="M262.6 819.6 Q267 818.8 272.6 820.6 M266 816.8 l1.4 -.8"/>
<!-- axle nut -->
<rect x="257.8" y="828.3" width="9.2" height="5.3" rx="1" fill="#333"/>
<circle cx="264" cy="830.9" r="1.9" fill="#fff" stroke="#000" stroke-width=".5"/>
<circle cx="264" cy="830.9" r=".8" fill="#333"/>
<rect class="m" x="267" y="828.6" width="6.2" height="4.8" rx="1.2"/>
<path class="t" d="M268.6 828.8 V833.2 M270.2 828.8 V833.2 M271.6 828.8 V833.2"/>
<circle cx="277.5" cy="830.9" r=".9" fill="#777"/>
<!-- cloud -->
<path class="m" d="M268.6 839 L276 838.6 Q277.6 840 279.4 838.8 Q282.6 837.6 283.6 840.6 Q286.6 842.4 286.2 845.4 Q287.4 848.6 284.4 849.6 L275 849.8 Q271.6 848.6 270 846 Q266.4 843.6 266.4 840.8 Q266.8 839.2 268.6 839 Z"/>
<path class="t" d="M278.6 840.2 Q275.4 840.6 275.4 843 Q273 843.4 273.4 845.4 Q274.6 847 276.8 846.4 Q278.6 848.4 281 847.4"/>
<!-- bolt on seat tube edge -->
<ellipse class="t" cx="326.8" cy="786.3" rx="2.4" ry="3.8" transform="rotate(38 326.8 786.3)"/>
<ellipse class="t" cx="326.3" cy="786.6" rx="1.3" ry="2.6" transform="rotate(38 326.3 786.6)"/>
</g>

<g id="rcal">
<!-- rear caliper -->
<path class="w" d="M224.9 788.4 L227.2 786.2 L231.8 786.6 L233.6 784.4 L236.4 783.6 L238.6 785.6 L242.4 784.6 L243.4 782 L245.6 780.4 L249.2 781.6 L251.4 786.4 L250.4 790.4 L246.4 795.4 L241.2 800.2 L236 801.6 L232.4 799.4 L228.6 795.4 L225.4 793.8 Z"/>
<circle class="m" cx="239.1" cy="793.9" r="4.8"/><circle class="t" cx="239.1" cy="793.9" r="3.2"/><circle class="m" cx="239.1" cy="793.9" r="1.4"/>
<circle class="t" cx="229.7" cy="789.8" r="2"/><circle class="t" cx="229.7" cy="789.8" r=".9"/>
<circle class="m" cx="246" cy="785.3" r="2.4"/><circle class="t" cx="246" cy="785.3" r="1.2"/>
<circle cx="221.8" cy="793.2" r="2.2" fill="#555"/><circle cx="221.8" cy="793.2" r="1" fill="#ddd"/>
<path class="t" d="M223.6 794 L226 796.4 M236.2 783.6 l-1 -1.4 l1.4 -.8"/>
<!-- banjo / hose fitting -->
<path class="w" d="M244.6 779.6 L246.4 773.2 L249.6 769.6 L251 769.2 L256.4 768.6 L257.6 772.6 L253.6 774.4 L252.4 777 L258.4 776.2 L259.6 779 L252.4 784.6 L251.4 786.4 L249.2 781.6 Z"/>
<path class="t" d="M249.6 769.6 L250.6 773.6 L253.6 774.4 M246.4 773.2 L248.6 778.4 L252.4 777 M250.6 773.6 L248.6 778.4 M252 781 L258.6 776.6"/>
<path class="k" d="M246.8 772.8 L245.6 776.6"/>
</g>
<g id="fcal">
<path class="w" d="M764.3 801.2 C768 798.6 773 796.6 777.4 795.6 L779.6 806 L782.4 820 L784.4 832 L779.9 834.2 L776 836.6 L771.4 837.6 L766.4 836 L764.6 831 L765.4 828 L763.7 824.9 L765.4 822 L766.8 817.4 L764.4 813 L766 808 Z"/>
<path class="w" d="M756.2 801 L761.4 800.4 L761.8 805 L759.6 805.6 L760.2 808.4 L764 809.4 L766.6 813.6 L764.6 815 L761.6 811.6 L758 811.4 L756.6 808 Z"/>
<path class="t" d="M767.4 801 L770.6 812 M771.6 799 L775.6 811.6 M774.6 808.6 L778.6 806 M758 803 h3"/>
<circle class="m" cx="775.5" cy="824.9" r="5"/><circle class="t" cx="775.5" cy="824.9" r="3.4"/><circle class="m" cx="775.5" cy="824.9" r="1.3"/>
<circle class="t" cx="769.9" cy="815.5" r="2.2"/><circle class="t" cx="769.9" cy="815.5" r="1"/>
<circle class="t" cx="767.4" cy="832.6" r="2.2"/><circle class="t" cx="767.4" cy="832.6" r="1.1"/>
<circle class="t" cx="780.2" cy="812.1" r="1.6"/>
<circle cx="768" cy="840.4" r="2.6" fill="#444"/><circle cx="768" cy="840.4" r="1.1" fill="#ddd"/>
</g>

<g id="headtube">
<path d="M668.9 584.9 L671 601.5 L684 626.4 L692.3 652.4 L704 648 L690 600 L682 582 Z" fill="#fff"/>
<path class="t" d="M668.9 584.9 L669.4 593.2 L671 601.5 L684 626.4 L692.3 652.4"/>
<path class="t" d="M669.4 591.1 L681.9 588 M669.8 592.4 L682.3 589.3"/>
</g>

<!-- seat -->
<path class="t" d="M236.7 603.5 L246.6 582.8 Q248.2 580 252.2 579.6 L327.6 575.3 C352 583.5 372 596.5 403 597.3 L543.6 596.9 C553 597.2 559.6 601 564 607.6 C567 612.6 569 617 570.4 619.4"/>
<!-- struts under seat -->
<path class="t" d="M318.3 624.2 L307.5 638 M395 642.8 L397.9 667.3"/>
<!-- white mask inside seatstay/seat tube triangle hiding tire -->
<path d="M300.5 624 L351.5 729.4 L410 654 L395 642.8 Z" fill="#fff"/>
<path class="t" d="M341.9 710.2 L364.4 711.1 M395 642.8 L397.9 667.3"/>
<!-- battery -->
<path d="M414.9 671 L434.8 668.1 L439.8 664 L443.1 659.4 L443 653.4 L572.9 633.5 L574.3 634.8 L575.2 650 L551.5 677 C547 678.5 543 679.6 539.3 680 L419.6 703.2 C414 703.8 411 702.5 408.4 699.4 L401.6 688.5 Z" fill="#fff"/>
<path class="t" d="M414.9 671 C424 670 430 669.4 434.8 668.1 C437.4 667 438.6 665.6 439.8 664 C441.2 661.6 442 660 443.1 659.4 L545 643.4 M572.9 633.5 L574.3 634.8 L575.2 650 L551.5 677 C547 678.5 543 679.6 539.3 680 L419.6 703.2 C414 703.8 411 702.5 408.4 699.4 L401.6 688.5"/>
<path class="t" d="M545 643.4 C548 646.6 552 650.6 556 650.8 C560 650.8 563 647 566 643 L572 635.4"/>
<!-- battery lock arrows -->
<path class="t" d="M548.8 647.6 a7 6 0 0 1 11.3 -1.7 M560.3 652.4 a7 6 0 0 1 -11.3 1.7"/>
<path class="b" d="M547.7 649.6 l.3 -2.8 l2.2 1.5z M561.3 645.2 l-.3 2.6 l-2.1 -1.3z"/>
<!-- seat stay -->
<path d="M284.6 620.3 L341.5 741 L346 744 L354 731 L299.6 622.2 Z" fill="#fff"/>
<path class="t" d="M284.6 620.3 L341.5 741 M350.7 729.4 L299.6 622.2"/>
<path class="t" d="M318.3 624.4 L308.4 638.6"/>
<path class="m" d="M299.8 622.6 L308.4 638.6"/>
<!-- top tube -->
<path d="M426.5 643.2 L674.6 602.6 L681.9 603.1 L687.1 606.2 L681.9 612.4 L664.3 614 L661.1 617.6 L443 653.4 C436 655 428 659 421.5 663.2 L414.9 670.6 L401.6 688.1 L350.7 729.4 L413.6 651.5 Z" fill="#fff"/>
<path class="t" d="M426.5 643.2 C450 639.4 480 633.6 500 630.2 L630 609.5 L674.6 602.6 L681.9 603.1 L687.1 606.2 L681.9 612.4 L664.3 614 L661.1 617.6 M661.1 617.6 L443 653.4 C436 655 428 659 421.5 663.2 C418 666.4 416 669 414.9 670.6 L401.6 688.1 L332.9 774.8"/>
<path class="t" d="M413.6 651.5 L350.7 729.4 M341.5 741 L306.3 786.4"/>
<!-- bolts under top tube -->
<path class="t" d="M442.4 653.6 a5.4 4.4 0 0 0 10.7 -1.7 M445.6 653.2 a2.4 3 0 0 0 4.6 -.7 M447.9 652.8 v3.4 M537 639.4 a3.8 3.2 0 0 0 7.4 -1.1 M540.6 638.8 v2.6 M629 625 a3.8 3.2 0 0 0 7.4 -1.1 M632.6 624.4 v2.6"/>
<!-- rack tube -->
<path class="wm" d="M202.7 577.2 A6.2 6.2 0 0 1 214.8 574.4 L222.4 589.8 C226.5 598 231 603.3 238.5 604.4 L300 609.8 L349.8 613.1 C362 614 371 616 379.7 619.7 L419 638.7 C422 640.2 425.4 642.4 426.5 645.7 C426.6 648 425.6 649.4 423.5 650.2 C420 651.2 417 651.1 413.2 651.1 L380 633.3 C371 628.6 363 625.6 354.8 624.7 L300 621.4 L238.5 617.2 C226 615 220 609 216.1 602.3 Z"/>
<!-- rack bolts -->
<g class="t"><circle cx="250" cy="612" r="3.6"/><circle cx="250" cy="612" r="1.3" fill="#555" stroke="none"/>
<circle cx="305.2" cy="616.1" r="3.6"/><circle cx="305.2" cy="616.1" r="1.3" fill="#555" stroke="none"/>
<circle cx="327.6" cy="618.2" r="3.6"/><circle cx="327.6" cy="618.2" r="1.3" fill="#555" stroke="none"/>
<circle cx="350.2" cy="742.7" r="2.9"/><circle cx="350.2" cy="742.7" r="1.1" fill="#555" stroke="none"/></g>
<!-- pin under rack -->
<path class="w" d="M247.4 618.2 L249.6 619 L242.6 636.4 L240.2 635.5 Z"/>
<!-- down tube -->
<path class="w" d="M657.9 668.2 L583.2 817.7 C580 824 577 829 571.6 832.6 L579.9 852.6 C590 842 600 830 606.4 814.4 L682.9 634.1 L681.9 612.9 L662.2 616.6 Z"/>
<!-- gusset -->
<path class="w" d="M664.3 614 L681.9 612.4 L681.9 632.7 L661.1 674.2 L659.6 672.1 L660.1 632.7 L662.2 616.6 Z"/>
<!-- lightning bolt -->
<path class="t" d="M672.3 619.6 L670 634 L674.2 632.6 L672.6 641.2 L673.8 641 L675.8 629.8 L671.6 631.2 L673.4 619.8 Z"/>
<!-- small brackets on down tube left edge -->
<path class="t" d="M609.5 758.5 l2.2 1 l-2.6 5 l-2.2 -1z M595.5 787 l2.2 1 l-2.6 5 l-2.2 -1z"/>
<!-- cable guide along down tube -->
<path d="M671.6 690.8 L606.8 819.5 C602.4 829 600.2 836 600.2 843 C600.2 851 601 858 602 866" fill="none" stroke="#000" stroke-width=".9"/>
<path class="t" d="M670 689.8 L605.2 818.5 C600.8 828 598.6 836 598.6 843 C598.6 851 599.4 858 600.4 866.3 L602 866 M668.6 689.2 L603.8 817.9 C599.4 827.4 597.4 836 597.4 843"/>
<path class="t" d="M668 688.4 l3.6 1.8 M655.4 713.4 l3.6 1.8 M637 750 l3.6 1.8 M617 790 l3.6 1.8 M606 812 l3.4 1.8"/>
<!-- cable strip near head -->
<path class="m" d="M687.6 637 L679.6 664.6 M686.4 636.6 L678.6 664"/>

<g id="crank">
<path class="w" d="M529.6 917 L573.6 908.7 L573.6 922 L529.6 930.3 Z"/>
<path class="w" d="M537.9 896.2 L544.8 920.5 A7.9 7.9 0 0 0 560.4 917 L555.3 892 L548 870 L532 872 Z"/>
<circle class="t" cx="552.8" cy="919.1" r="3.2"/>
<path class="k" d="M547.4 914.2 l5 -1.2"/>
<circle class="w" cx="534.6" cy="860.5" r="32.3"/>
<path class="t" d="M532.3 892.7 L529.7 894.5 L527.7 892.1 L524.9 893.4 L523.3 890.8 L520.4 891.7 L519.1 888.8 L516.1 889.4 L515.2 886.4 L512.1 886.4 L511.8 883.3 L508.7 883 L508.7 879.9 L505.7 879 L506.3 876 L503.4 874.7 L504.3 871.8 L501.7 870.2 L503 867.4 L500.6 865.4 L502.4 862.8 L500.3 860.5 L502.4 858.2 L500.6 855.6 L503 853.6 L501.7 850.8 L504.3 849.2 L503.4 846.3"/>
<path class="t" d="M529.4 892.2 A32.1 32.1 0 0 0 566.4 865"/>
<path class="t" d="M528.7 896.7 A36.6 36.6 0 0 0 570.9 865.6"/>
<circle class="t" cx="535" cy="894.9" r="1.25"/>
<path class="t" d="M537.7 892.5 L538.1 897"/>
<circle class="t" cx="540.8" cy="894.3" r="1.25"/>
<circle class="t" cx="546.5" cy="892.8" r="1.25"/>
<path class="t" d="M548.3 889.6 L550.2 893.7"/>
<circle class="t" cx="551.8" cy="890.3" r="1.25"/>
<circle class="t" cx="556.7" cy="886.9" r="1.25"/>
<path class="t" d="M557.3 883.3 L560.4 886.5"/>
<circle class="t" cx="560.8" cy="882.7" r="1.25"/>
<circle class="t" cx="564.3" cy="877.9" r="1.25"/>
<path class="t" d="M563.6 874.4 L567.7 876.3"/>
<circle class="t" cx="566.8" cy="872.6" r="1.25"/>
<circle class="t" cx="568.4" cy="866.9" r="1.25"/>
<path class="t" d="M566.6 863.8 L571.1 864.3"/>
<circle class="t" cx="534.6" cy="860.5" r="29.6"/>
<circle class="t" cx="534.6" cy="860.5" r="24.6"/>
<g transform="translate(534.6 860.5) rotate(-65.3)">
<path class="w" d="M4 -4.6 L20.5 -3.6 L20.5 -5 Q20.5 -6 21.5 -6 L29.5 -6 Q30.5 -6 30.5 -5 L30.5 5 Q30.5 6 29.5 6 L21.5 6 Q20.5 6 20.5 5 L20.5 3.6 L4 4.6 Z"/>
<circle class="t" cx="25.6" cy="0" r="1"/>
</g>
<g transform="translate(534.6 860.5) rotate(24)">
<path class="w" d="M4 -4.6 L20.5 -3.6 L20.5 -5 Q20.5 -6 21.5 -6 L29.5 -6 Q30.5 -6 30.5 -5 L30.5 5 Q30.5 6 29.5 6 L21.5 6 Q20.5 6 20.5 5 L20.5 3.6 L4 4.6 Z"/>
<circle class="t" cx="25.6" cy="0" r="1"/>
</g>
<g transform="translate(534.6 860.5) rotate(117.6)">
<path class="w" d="M4 -4.6 L20.5 -3.6 L20.5 -5 Q20.5 -6 21.5 -6 L29.5 -6 Q30.5 -6 30.5 -5 L30.5 5 Q30.5 6 29.5 6 L21.5 6 Q20.5 6 20.5 5 L20.5 3.6 L4 4.6 Z"/>
<circle class="t" cx="25.6" cy="0" r="1"/>
</g>
<g transform="translate(534.6 860.5) rotate(-150.6)">
<path class="w" d="M4 -4.6 L20.5 -3.6 L20.5 -5 Q20.5 -6 21.5 -6 L29.5 -6 Q30.5 -6 30.5 -5 L30.5 5 Q30.5 6 29.5 6 L21.5 6 Q20.5 6 20.5 5 L20.5 3.6 L4 4.6 Z"/>
<circle class="t" cx="25.6" cy="0" r="1"/>
</g>
<circle class="w" cx="534.6" cy="860.5" r="9.2"/>
<path class="w" d="M509.4 808.5 L526.6 860.5 A8 8 0 0 0 541.8 856 L523.4 806 Z"/>
<path class="t" d="M514 808 L530.6 856 M519 806.6 L536.6 855"/>
<path class="m" d="M509.6 809.6 L520 840 M523.6 807 L534.6 837"/>
<circle class="w" cx="534.6" cy="860.5" r="7.6"/>
<circle class="t" cx="534.6" cy="860.5" r="5.6"/>
<circle class="t" cx="534.6" cy="860.5" r="3.4"/>
<path class="t" d="M532.1 860.5 h5 M534.6 858 v5"/>
<path class="w" d="M487.5 801.5 L532.1 791.6 L536.5 803.5 L493 813.5 Z"/>
<g transform="translate(513.8 801.9) rotate(-12.6)">
<circle class="w" cx="0" cy="0" r="4.6"/>
<path class="t" d="M-16.5 -3.6 L-13.5 -4.4 L-12.4 3.4 L-17.6 3.6 Z M-11 -4.6 L-8 -4.6 L-6.6 3.6 L-11.6 3.8 Z M7 -4.6 L10.4 -4.6 L11.6 3.6 L6.4 3.6 Z M13 -4.6 L16.2 -4 L17.8 3.4 L12.4 3.6 Z"/>
<path class="m" d="M-3 -6.2 h6 M-2 -7 h4"/>
</g>
</g>
<g id="sidefork">
<!-- headlight back box -->
<path class="w" d="M724.1 578.6 L728.7 571.5 L737.8 567.8 L737.8 562.4 L743.2 560.7 L745 566 L738 600 L725.7 598.1 L724.1 595.6 Z"/>
<path d="M724.6 578.2 L728.9 571.9 L737.6 568.4" fill="none" stroke="#000" stroke-width="1.7" stroke-linejoin="round"/>
<path class="k" d="M724.3 580 V595.6"/>
<circle cx="729.1" cy="578" r=".9" fill="#555"/>
<!-- headlight body -->
<path class="w" d="M737.4 602.3 L754 568.6 L756.5 566.5 C759 572 760.6 580 761 588.1 C761.4 594 761.2 599 760.6 604.8 C760 609.6 759.2 613.6 758.1 617.2 C757 621.6 756 625 754.8 628 L752.6 629.6 L746.5 630.5 L737.4 625.5 Z"/>
<path class="t" d="M744.9 590 V629 M749.8 580 V630 M754 570 V621.4 M749.8 594 H760 M746.5 630.5 V622 H752.6 V629.6 M749.8 622 L754 621.4"/>
<path d="M756.5 566.5 C759 572 760.7 580 761.1 588.1 C761.5 594 761.3 599 760.7 604.8 C760.1 609.6 759.3 613.6 758.2 617.2 C757.1 621.6 756.1 625 754.9 628" fill="none" stroke="#000" stroke-width="1.5" stroke-dasharray="2.6 .7"/>
<path class="m" d="M755.3 569 C757.6 575 759 582 759.3 588.4 C759.6 596 759.2 603 758.2 609.6 C757.4 615.6 756 621 754.2 626"/>
<path d="M731 616 L736.6 620.4 M730 617.6 L735.8 622.2" fill="none" stroke="#000" stroke-width="1.2"/>
<path class="t" d="M736.6 620.4 V613 M734.6 612.4 V618.6"/>
<!-- headlight bracket tube -->
<path class="w" d="M718.7 612.2 L747.8 552.4 C749.6 547.6 752.6 544.1 756 544.1 C760.6 544.3 763.2 546.6 761.9 549.1 L724.9 629.7 Z"/>
<path class="t" d="M741.9 565.7 L753.2 570.3"/>
<!-- fork leg -->
<path class="w" d="M683.6 586 L788.6 820.5 C790 824 791.4 826.2 792.3 827.3 C794 829.4 796 830.4 797.9 831.1 L801 834.9 C803.5 837.6 805.4 838.6 807.3 839.2 C809 840 811.4 840.4 813.5 840.4 C816 840.3 818 839.6 819.7 838.5 C822.4 836.6 823.8 834.6 824.1 832.3 C824.5 830 824.2 828 823.5 826.1 C822.4 823.8 820.6 822.4 818.5 821.7 C816 821 813.4 820.9 811 820.5 C809.4 820 808 818.9 807.3 817.4 L698 569.9 Z"/>
<path class="t" d="M792.9 826.7 L807.3 819.9"/>
<path class="m" d="M801 834.9 C803.5 837.6 805.4 838.6 807.3 839.2 C809 840 811.4 840.4 813.5 840.4 C816 840.3 818 839.6 819.7 838.5 C822.4 836.6 823.8 834.6 824.1 832.3 C824.5 830 824.2 828 823.5 826.1 C822.4 823.8 820.6 822.4 818.5 821.7"/>
<path class="t" d="M778.6 800.6 L782.4 820 L784.8 833.6"/>
<!-- lower clamp -->
<path class="w" d="M696.4 621.2 L718.2 611.4 L727.1 631.1 L704.7 642 Z"/>
<path class="k" d="M709.6 615.4 L718 635.2"/>
<path class="t" d="M707.8 616.2 L716.2 636 M699.4 623.6 L707 640.6 M701.4 622.8 L709 639.8"/>
<path class="w" d="M697.5 643 L726.5 631.6 L732.8 646.2 L702.7 660.7 L696.4 663.8 L693.3 656.5 L699 654 L701.6 652.6 Z"/>
<path class="t" d="M710.2 650.6 L708.6 646.6 L729 637.6 M710 651.4 L730.6 641.4 M709.4 645.2 L728.4 636.6"/>
<circle class="t" cx="698" cy="658.6" r=".7"/>
<!-- stem block + upper plate -->
<path class="w" d="M653.2 568 L673.9 554.6 L673.9 539.6 L698 538 L699.7 563 L699 569.9 L665.8 586 L661.7 587 Z"/>
<path class="t" d="M665.8 576.6 L694.4 564.4 L699 569.9 M667.6 579.6 L669.2 584.2 M673.9 554.6 L680 551 M678.6 568.8 l10 -4.2 M679 567.8 l9.6 -4"/>
<circle class="t" cx="659.4" cy="573.5" r="1.8"/><circle class="t" cx="659.4" cy="573.5" r=".8"/>
<circle class="t" cx="663.7" cy="582.1" r="2"/><circle class="t" cx="663.7" cy="582.1" r=".9"/>
<!-- riser tube -->
<path class="w" d="M668.8 476.5 L678.9 544.6 A6.4 6.4 0 0 0 691.4 544.6 L680.2 475.8 Z"/>
<path class="w" d="M667.7 467.5 Q674.3 465.4 679.8 466.1 L680.4 475.5 Q674.3 480.0 668.9 476.5 Z"/>
<path class="w" d="M667.4 465.8 L670.8 464.4 L671.9 466.5 L668.8 468.2 Z"/>
<path class="w" d="M675.3 464.4 L678.4 463.4 L680.0 465.4 L677.1 467.0 Z"/>
<path class="w" d="M669.8 449.5 L700.2 461.3 L700.6 464.1 L699.2 467.5 L696.4 466.5 L671.5 455.8 Z"/>
<path d="M671.5 452.6 L690.2 459.4" fill="none" stroke="#000" stroke-width="1.9"/>
<path class="t" d="M670.8 450.6 L699.6 462.3 M671.5 454.4 L688.8 461.0"/>
<path class="w" d="M674.3 457.8 L677.8 457.1 L687.4 462.0 L686.7 465.4 L677.1 462.7 L672.9 461.3 Z"/>
<path class="w" d="M688.8 461.6 L692.3 462.1 L700.6 468.9 L700.2 473.1 L698.2 475.5 L688.8 471.7 L686.4 468.9 L686.9 464.8 Z"/>
<path class="t" d="M687.8 470.3 L698.5 474.8"/>
<path d="M692.6 463.0 L694.7 463.7 L695.7 466.1 L694.0 466.3 Z" fill="#000"/>
<ellipse cx="664.3" cy="457.5" rx="8.2" ry="8.4" fill="#000" transform="rotate(-14 664.3 457.5)"/>
<circle class="wm" cx="655.9" cy="459.6" r="8"/>
<circle cx="655.9" cy="459.6" r="1.1" fill="#666"/>
</g>

<g id="fhub">
<circle class="m" cx="815.4" cy="831.1" r="5.7"/><circle class="t" cx="815.4" cy="831.1" r="3.7"/><circle class="t" cx="815.4" cy="831.1" r="2.4"/><circle class="t" cx="815.4" cy="831.1" r="1.2"/>
<path class="k" d="M808.6 826.4 a7.4 7.4 0 0 0 1.6 9.6 M817.4 835.4 l2 2.6"/>
<!-- fender tab on fork -->
<path class="w" d="M764.2 716.6 L770.6 719 C773 720.5 774.4 722.5 774.2 725 L773.4 729.8 L768.4 729.6 Z"/>
<circle class="t" cx="771.4" cy="723.6" r=".8"/>
<path class="t" d="M731 677 l-2.4 1.2 l2.6 6 l2.4 -1.2"/>
</g>

</g>

<!-- front.svg -->
<g id="front">
<defs>
<pattern id="hatch" width="1.6" height="1.6" patternUnits="userSpaceOnUse"><rect width="1.6" height="1.6" fill="#6a6a6a"/><path d="M0 0H1.6M0 0V1.6" stroke="#222" stroke-width=".7"/></pattern>
<g id="hbhalf">
 <!-- main bar -->
 <path d="M1007.2 449.9 L1029.6 449.3 C1040 450.3 1050 454 1058.3 459.3 L1071 473.1 L1099 531.2 C1102.5 537.6 1108 540.6 1114.8 541.2 L1144 541.2 L1144 550.6 L1114 550.5 C1106 549.6 1099 548 1095 544.6 C1091.6 541.4 1089.8 536.6 1088.2 531.2 L1062 478.6 C1057.6 471 1050 466 1044 463 C1039.6 461 1035 460.2 1030.9 459.9 L1007.2 459.9 Z" fill="#fff"/>
 <path class="t" d="M1007.2 449.9 L1029.6 449.3 C1040 450.3 1050 454 1058.3 459.3 L1071 473.1 L1099 531.2 C1102.5 537.6 1108 540.6 1114.8 541.2 L1133 541.2 M1117 550.6 L1114 550.5 C1106 549.6 1099 548 1095 544.6 C1091.6 541.4 1089.8 536.6 1088.2 531.2 L1062 478.6 C1057.6 471 1050 466 1044 463 C1039.6 461 1035 460.2 1030.9 459.9 L1007.2 459.9"/>
 <path class="t" d="M1030.5 449.4 V459.8 M1062.4 478.4 L1071.3 473.4 M1089.6 534.4 L1100 531.6 M1115.8 541.3 L1117.2 546.4"/>
 <!-- crossbar half -->
 <path d="M1058.9 459.1 L1130.5 486.4 Q1137 488 1144 488 L1144 496.8 Q1137 496.8 1130 494.9 L1071.3 473.5 Z" fill="#fff"/>
 <path class="t" d="M1058.9 459.1 L1130.5 486.4 Q1137 488 1143.6 488 M1143.6 496.8 Q1137 496.8 1130 494.9 L1071.3 473.5 L1058.9 459.1"/>
 <path class="t" d="M1130.5 486.4 L1128 494.2"/>
 <!-- lever body -->
 <path class="w" d="M986.6 464 L1000.9 461.2 L1004.7 469.9 L1019.6 467.4 L1022.1 460.6 L1030.9 461.2 L1031.5 465.6 L1024.6 467.4 L1024 470.5 L1005.4 473.4 L998 472.2 L989 468.2 Z"/>
 <path class="t" d="M1001 461.2 L1019.6 458.6 L1022.1 460.6 M1004.7 466 L1019.8 463.6 M1019.6 458.6 V467.4 M1024.6 461 V467.4 M1005.4 470 L1024 467"/>
 <!-- clamp -->
 <path class="w" d="M994.7 448.7 H1007.2 V456.8 H1002 V459.6 H994.7 Z"/>
 <path class="t" d="M996.4 448.7 V459.6 M998 455 H1007.2"/>
 <!-- grip -->
 <path class="w" d="M933.3 452.6 Q933.3 451.6 934.4 451.6 L938.7 451.4 V466.9 L934.4 467 Q933.3 467 933.3 466 Z"/>
 <path d="M944.5 450.4 L994.7 448.9 V461 L986 462.6 L958 466.4 L944 466.2 Q938.8 466 938.8 458.4 Q938.8 450.6 944.5 450.4 Z" fill="url(#hatch)" stroke="#111" stroke-width=".6"/>
 <!-- lever -->
 <path class="w" d="M947.6 469.6 L955.5 467.2 L957.4 472.4 L949.4 474.4 Z"/>
 <path class="b" d="M955.5 464.6 Q957 463.2 962 462.6 L984.8 461.6 Q987 463.6 986.6 467.2 L960 472.2 Q957.4 472.8 956.4 470.4 Z"/>
</g>
</defs>
<!-- tire -->
<path class="w" d="M1114.6 950.6 V709.5 C1114.6 697 1119 690.5 1126 686.6 C1132 683.6 1137 683 1143.5 683 C1150 683 1155 683.6 1161 686.6 C1168 690.5 1172.4 697 1172.4 709.5 V950.6 A28.9 28.4 0 0 1 1114.6 950.6 Z"/>
<path class="k" d="M1119.6 691.6 l1.6 -1.8 M1167.4 691.6 l-1.6 -1.8"/>
<!-- fork legs -->
<path class="w" d="M1089 649.7 V770 L1088.3 793.3 L1083.8 800 L1083.5 818.4 L1085.9 835.9 L1091.7 857.2 L1110 857 V649.7 Z"/>
<path class="w" d="M1198 649.7 V770 L1201.8 835.9 L1201.8 856 L1177 856 V649.7 Z"/>
<path class="t" d="M1110.6 649.7 V846 M1176.4 649.7 V846 M1112.6 664 V838 M1174.4 664 V846 M1098.9 717 h2.5 v21.6 h-2.5z M1185.6 717 h2.5 v21.6 h-2.5z"/>
<path class="t" d="M1110.6 668 q2 2 2 6 M1176.4 668 q-2 2 -2 6 M1110.6 700 l2 3 M1176.4 700 l-2 3 M1110.6 716 l2 -2 M1176.4 716 l-2 -2"/>
<!-- lower clamp -->
<path class="w" d="M1087.6 631.7 C1090 629 1096 628.6 1103 629.4 L1119 633 H1168 L1184 629.4 C1191 628.6 1197 629 1199.4 631.7 V647.6 Q1199.4 650.2 1196.6 650.2 H1090.4 Q1087.6 650.2 1087.6 647.6 Z"/>
<path class="t" d="M1088.6 637.6 C1094 634.6 1102 634.8 1110 639 H1177 C1185 634.8 1193 634.6 1198.4 637.6 M1089 642.6 C1095 640.4 1102 641 1110 644.6 H1177 C1185 641 1192 640.4 1198 642.6"/>
<path class="t" d="M1099 634 V650 M1102.6 634.6 V650 M1188 634 V650 M1184.4 634.6 V650 M1128.6 633 V650 M1158.4 633 V650 M1132 633 V650 M1155 633 V650"/>
<!-- fender bracket -->
<path class="w" d="M1115.2 650.6 H1171.9 L1167 654.6 L1152 659.6 L1146.6 664.4 H1140.4 L1135 659.6 L1120 654.6 Z"/>
<path class="m" d="M1117.4 651.6 L1136 657.6 Q1143.5 652.4 1151 657.6 L1169.6 651.6"/>
<ellipse class="t" cx="1143.5" cy="658.4" rx="6.3" ry="3.4"/><ellipse class="t" cx="1143.5" cy="658.4" rx="4.4" ry="2.2"/>
<!-- handlebars -->
<use href="#hbhalf"/>
<use href="#hbhalf" transform="translate(2287 0) scale(-1 1)"/>
<!-- fork crowns (tops) -->
<path class="w" d="M1088.6 566.8 Q1090 563.6 1095 563 L1102.6 562.6 V574.6 H1092.4 V629.8 H1088.6 Z"/>
<path class="w" d="M1198.4 566.8 Q1197 563.6 1192 563 L1184.4 562.6 V574.6 H1194.6 V629.8 H1198.4 Z"/>
<path class="t" d="M1088.6 570 Q1094 567 1102.6 567.4 M1198.4 570 Q1193 567 1184.4 567.4 M1088.6 574.6 H1102 M1198.4 574.6 H1185 M1092.4 574.6 V629 M1194.6 574.6 V629 M1087.6 612 V632 M1199.4 612 V632"/>
<!-- headlight hoop -->
<path class="w" d="M1093.2 628 L1095.8 617.2 L1100.6 575 C1101 566 1103 560 1107 554.2 C1111 549.5 1116 547 1121.5 546 L1129.3 545.5 H1157.7 L1165.5 546 C1171 547 1176 549.5 1180 554.2 C1184 560 1186 566 1186.4 575 L1191.2 617.2 L1193.8 628 L1183.6 624.6 L1179 597.8 L1174.4 571 C1173 565 1169 560 1162.6 558.6 H1124.4 C1118 560 1114 565 1112.6 571 L1108 597.8 L1103.4 624.6 Z"/>
<path class="t" d="M1129.7 546 V558.4 M1143.5 546 V558.4 M1157.3 546 V558.4"/>
<!-- stem top -->
<path class="t" d="M1115.7 540.4 H1171.3 M1115.7 540.4 L1117.2 545.8 M1171.3 540.4 L1169.8 545.8"/>
<rect class="w" x="1133.1" y="536.4" width="20.9" height="8.2" rx="1"/>
<path class="m" d="M1134 537.6 H1153"/>
<!-- headlight -->
<circle cx="1143.5" cy="595.9" r="35.4" fill="#fff" stroke="#000" stroke-width="1"/>
<circle cx="1143.5" cy="595.9" r="33.2" fill="none" stroke="#000" stroke-width=".9"/>
<circle cx="1143.5" cy="595.9" r="24.8" fill="none" stroke="#000" stroke-width=".9"/>
<circle class="t" cx="1143.5" cy="595.9" r="21.8"/>
<path class="k" d="M1142.4 562.8 V582.6 M1144.6 562.8 V582.6 M1142.4 609.4 V629 M1144.6 609.4 V629 M1110.4 594.8 H1127.2 M1110.4 597 H1127.2 M1159.8 594.8 H1176.6 M1159.8 597 H1176.6"/>
<path class="k" d="M1121 571.4 L1129.6 580 M1122.6 569.8 L1131.2 578.4 M1166 571.4 L1157.4 580 M1164.4 569.8 L1155.8 578.4 M1121 620.4 L1129.6 611.8 M1122.6 622 L1131.2 613.4 M1166 620.4 L1157.4 611.8 M1164.4 622 L1155.8 613.4"/>
<rect x="1125.6" y="581" width="35.8" height="30" rx="6" fill="#fff" stroke="#000" stroke-width="1"/>
<rect x="1127.8" y="583.2" width="31.4" height="25.6" rx="4.6" fill="none" stroke="#000" stroke-width=".8"/>
<rect x="1131.6" y="593" width="23.6" height="5.4" fill="#999"/>
<g class="k"><circle cx="1119.1" cy="566.8" r="2.9"/><circle cx="1119.1" cy="566.8" r="1.6"/><circle cx="1167.9" cy="566.8" r="2.9"/><circle cx="1167.9" cy="566.8" r="1.6"/><circle cx="1119.1" cy="625.2" r="2.9"/><circle cx="1119.1" cy="625.2" r="1.6"/><circle cx="1167.9" cy="625.2" r="2.9"/><circle cx="1167.9" cy="625.2" r="1.6"/></g>
<path class="t" d="M1129.3 630.8 H1157.7 M1129.3 630.8 L1120.6 639.4 M1157.7 630.8 L1166.4 639.4 M1131.6 631 L1124 640 M1155.4 631 L1163 640"/>
<!-- left pedal -->
<path class="wm" d="M1032.1 796.2 L1039.4 790.8 H1072.8 L1080.1 796.2 L1080.6 805.9 L1072.8 812.6 H1039.4 L1032.1 807.8 Z"/>
<path class="m" d="M1043.3 793.7 H1068.9 V800.5 H1043.3 Z M1033 803 H1079 M1039.4 790.8 V803 M1072.8 790.8 V803 M1039.4 812.6 L1036 803 M1072.8 812.6 L1077 803 M1034.6 795 L1036.6 802"/>
<rect class="m" x="1040.3" y="804.9" width="31.5" height="5.8" rx="2.4"/>
<path class="w" d="M1080.4 798 H1084 V806 H1080.6 Z"/>
<!-- left crank arm -->
<path class="w" d="M1084 795.6 Q1084 794 1086 793.8 L1089.3 793.3 L1090.7 818.4 L1093.6 833 L1098 842 L1104 857 L1108 872 L1104 878 L1097 866 L1092.7 866.9 L1091.7 857.2 L1085.9 835.9 L1083.5 818.4 Z"/>
<path class="k" d="M1084.6 826 Q1086 842 1093 857"/>
<rect class="b" x="1082.6" y="828.6" width="1.6" height="4.6"/>
<path class="w" d="M1080 844.1 H1086.6 L1091 856.2 H1080 Z"/>
<path class="t" d="M1086 846 a7 7 0 0 0 2.8 12.4"/>
<!-- left brake/hub parts -->
<path class="t" d="M1093.6 820 Q1096 817.2 1101 817.4 L1106 817.2 Q1109 815 1110.4 813.6 V836 H1107 V820.6 M1097 822 V836 L1101 839.6 V822 M1101 839.6 V856 H1111.6 M1104 822 V856"/>
<!-- chain + chainring (front view) -->
<rect x="1111.6" y="837.8" width="2.6" height="34.6" fill="#bbb" stroke="#333" stroke-width=".5"/>
<path d="M1103.2 857.8 V897 M1106 857.8 V897" fill="none" stroke="#111" stroke-width="1.5" stroke-dasharray="2.3 .8"/>
<path class="t" d="M1092.6 860 L1098 864 L1101.6 878 L1102 892 M1096 868 L1099 872 L1101 884"/>
<!-- right crank arm + BB -->
<path class="w" d="M1201.8 844.7 H1207.6 V855.9 H1201.8 Z"/>
<circle class="w" cx="1194.7" cy="852.4" r="7.2"/>
<path class="w" d="M1179.4 850 L1181.8 864.1 L1188.8 881.8 L1191.2 899.4 L1191.8 926.5 L1198.2 925.3 L1197.6 893.5 L1194.7 875.9 L1189.6 862 L1188.8 850 Z"/>
<path class="k" d="M1182.4 868 Q1189 882 1190 902"/>
<path class="w" d="M1198.2 914.2 H1203 V924 H1198.2 Z"/>
<path class="t" d="M1177 846.6 H1196 M1177 843.6 H1188 M1194 859.6 V870 M1196.6 858.6 V868"/>
<rect x="1175.6" y="852.6" width="3.4" height="16" fill="#ddd" stroke="#333" stroke-width=".5"/>
<!-- right caliper -->
<path class="t" d="M1181.8 818.4 Q1185 816 1189 818.2 Q1196 816.6 1196 821.6 Q1195.6 825.6 1189.6 826.6 L1188.6 838 L1185.4 844 M1184.2 822.6 Q1187 820 1190.4 822 L1190.6 826 M1177.6 838 Q1180 841 1184 838.6 L1184.4 824 M1186 829 h10 v7.4 h-6 M1189 838.6 l-2.2 5.6 l2.6 2.4 l2.6 -6.6"/>
<rect class="b" x="1201.8" y="827.6" width="2.9" height="4.8"/>
<path class="t" d="M1198.4 788.2 Q1201.8 788.4 1201.8 792 V796 Q1201.8 798.8 1198.8 798.8"/>
<path class="k" d="M1176 800 V812 M1177.4 806 L1177.8 826"/>
<!-- right pedal -->
<path class="wm" d="M1202.9 912.4 L1211.2 908.8 H1244.1 L1253.5 914.7 L1252.9 922.9 L1244.1 929.4 H1212.4 L1203.5 924.1 Z"/>
<path class="m" d="M1215.3 911.2 H1240 V919.4 H1215.3 Z M1211.2 908.8 V921.6 M1244.1 908.8 V921.6 M1205 921.6 H1251 M1212.4 929.4 L1208 921.6 M1244.1 929.4 L1248.6 921.6 M1248.6 912.6 L1250.4 921"/>
<rect x="1212.6" y="923" width="30.4" height="4" fill="#ccc" stroke="#333" stroke-width=".5"/>
</g>

<!-- table.svg -->
<g id="table">
<rect x="76.0" y="1103.6" width="1293.0" height="71.7" fill="#e6e7e8"/>
<path d="M76.0 1103.6 V1175.3 M205.3 1103.6 V1175.3 M334.6 1103.6 V1175.3 M463.9 1103.6 V1175.3 M593.2 1103.6 V1175.3 M722.5 1103.6 V1175.3 M851.8 1103.6 V1175.3 M981.1 1103.6 V1175.3 M1110.4 1103.6 V1175.3 M1239.7 1103.6 V1175.3 M1369.0 1103.6 V1175.3 M75.5 1103.6 H1369.5 M75.5 1139.4 H1369.5 M75.5 1175.3 H1369.5 " fill="none" stroke="#3a3a3a" stroke-width="1.1"/>
<text x="140.7" y="1127.9" text-anchor="middle" font-weight="700" fill="#111" stroke="#111" stroke-width=".3" textLength="43.4" lengthAdjust="spacingAndGlyphs"><tspan font-size="15.8">S</tspan><tspan font-size="11.7">PEED</tspan></text>
<text x="270.0" y="1127.9" text-anchor="middle" font-weight="700" fill="#111" stroke="#111" stroke-width=".3" textLength="45.6" lengthAdjust="spacingAndGlyphs"><tspan font-size="15.8">R</tspan><tspan font-size="11.7">ANGE</tspan></text>
<text x="399.2" y="1127.9" text-anchor="middle" font-weight="700" fill="#111" stroke="#111" stroke-width=".3" textLength="58.2" lengthAdjust="spacingAndGlyphs"><tspan font-size="15.8">B</tspan><tspan font-size="11.7">ATTERY</tspan></text>
<text x="528.6" y="1127.9" text-anchor="middle" font-weight="700" fill="#111" stroke="#111" stroke-width=".3" textLength="47.8" lengthAdjust="spacingAndGlyphs"><tspan font-size="15.8">M</tspan><tspan font-size="11.7">OTOR</tspan></text>
<text x="657.9" y="1127.9" text-anchor="middle" font-weight="700" fill="#111" stroke="#111" stroke-width=".3" textLength="58.5" lengthAdjust="spacingAndGlyphs"><tspan font-size="15.8">G</tspan><tspan font-size="11.7">EARING</tspan></text>
<text x="787.2" y="1127.9" text-anchor="middle" font-weight="700" fill="#111" stroke="#111" stroke-width=".35" font-size="12.3" textLength="52.3" lengthAdjust="spacingAndGlyphs">BRAKES</text>
<text x="916.5" y="1127.9" text-anchor="middle" font-weight="700" fill="#111" stroke="#111" stroke-width=".3" textLength="46.9" lengthAdjust="spacingAndGlyphs"><tspan font-size="15.8">F</tspan><tspan font-size="11.7">RAME</tspan></text>
<text x="1045.8" y="1127.9" text-anchor="middle" font-weight="700" fill="#111" stroke="#111" stroke-width=".35" font-size="12.3" textLength="35.6" lengthAdjust="spacingAndGlyphs">TIRES</text>
<text x="1175.1" y="1127.9" text-anchor="middle" font-weight="700" fill="#111" stroke="#111" stroke-width=".35" font-size="12.3" textLength="85.0" lengthAdjust="spacingAndGlyphs">BIKE WEIGHT</text>
<text x="1304.4" y="1127.9" text-anchor="middle" font-weight="700" fill="#111" stroke="#111" stroke-width=".35" font-size="12.3" textLength="90.9" lengthAdjust="spacingAndGlyphs">WEIGHT LIMIT</text>
<text x="140.7" y="1163" text-anchor="middle" font-weight="700" fill="#111" stroke="#111" stroke-width=".4" font-size="10.8" textLength="43.6" lengthAdjust="spacingAndGlyphs">20 MPH</text>
<text x="270.0" y="1163" text-anchor="middle" font-weight="700" fill="#111" stroke="#111" stroke-width=".4" font-size="10.8" textLength="80.3" lengthAdjust="spacingAndGlyphs">30 - 50 MILES</text>
<text x="399.2" y="1163" text-anchor="middle" font-weight="700" fill="#111" stroke="#111" stroke-width=".4" font-size="10.8" textLength="83.3" lengthAdjust="spacingAndGlyphs">48 V / 13.4 AH</text>
<text x="528.6" y="1163" text-anchor="middle" font-weight="700" fill="#111" stroke="#111" stroke-width=".4" font-size="10.8" textLength="31.6" lengthAdjust="spacingAndGlyphs">750W</text>
<text x="657.9" y="1163" text-anchor="middle" font-weight="700" fill="#111" stroke="#111" stroke-width=".4" font-size="10.8" textLength="79.7" lengthAdjust="spacingAndGlyphs">SINGLE SPEED</text>
<text x="787.2" y="1163" text-anchor="middle" font-weight="700" fill="#111" stroke="#111" stroke-width=".4" font-size="10.8" textLength="64.3" lengthAdjust="spacingAndGlyphs">HYDRAULIC</text>
<text x="916.5" y="1163" text-anchor="middle" font-weight="700" fill="#111" stroke="#111" stroke-width=".4" font-size="10.8" textLength="112.6" lengthAdjust="spacingAndGlyphs">6061-T6 ALUMINUM</text>
<text x="1045.8" y="1163" text-anchor="middle" font-weight="700" fill="#111" stroke="#111" stroke-width=".4" font-size="10.8" textLength="66.0" lengthAdjust="spacingAndGlyphs">KENDA 4.5&quot;</text>
<text x="1175.1" y="1163" text-anchor="middle" font-weight="700" fill="#111" stroke="#111" stroke-width=".4" font-size="10.8" textLength="37.8" lengthAdjust="spacingAndGlyphs">77 LBS</text>
<text x="1304.4" y="1163" text-anchor="middle" font-weight="700" fill="#111" stroke="#111" stroke-width=".4" font-size="10.8" textLength="46.1" lengthAdjust="spacingAndGlyphs">325 LBS</text>
</g>
<!-- footer.svg -->
<g id="footer">
<text x="461.2" y="1227.2" font-style="italic" font-size="18" fill="#111" word-spacing="3.2">SPECIFICATIONS SUBJECT TO CHANGE WITHOUT NOTICE</text>
<text x="1055.3" y="1349.7" font-style="italic" font-weight="700" font-size="24.2" fill="#111" stroke="#111" stroke-width=".55" textLength="55.9" lengthAdjust="spacingAndGlyphs">Come</text>
<text x="1120.0" y="1349.7" font-style="italic" font-weight="700" font-size="24.2" fill="#111" stroke="#111" stroke-width=".55" textLength="45.6" lengthAdjust="spacingAndGlyphs">Ride</text>
<text x="1172.9" y="1349.7" font-style="italic" font-weight="700" font-size="24.2" fill="#111" stroke="#111" stroke-width=".55" textLength="50.0" lengthAdjust="spacingAndGlyphs">With</text>
<text x="1230.3" y="1349.7" font-style="italic" font-weight="700" font-size="24.2" fill="#111" stroke="#111" stroke-width=".55" textLength="33.8" lengthAdjust="spacingAndGlyphs">Us!</text>
</g><g id="badge">
<defs><linearGradient id="bg" x1="0" y1="0" x2="0" y2="1"><stop offset="0" stop-color="#a6a6a6"/><stop offset=".55" stop-color="#b0b0b0"/><stop offset="1" stop-color="#9c9c9c"/></linearGradient></defs>
<path d="M1330.0 1298.7 C1332.2 1298.7 1333.9 1300.2 1336.4 1300.8 C1339.0 1301.3 1341.9 1302.1 1344.8 1302.0 C1347.6 1302.0 1350.7 1301.1 1353.1 1300.4 C1355.5 1299.7 1358.9 1297.9 1358.9 1297.9 C1358.9 1297.9 1360.5 1299.7 1362.2 1301.6 C1363.9 1303.5 1366.3 1306.5 1368.8 1309.1 C1371.4 1311.6 1377.1 1316.6 1377.1 1316.6 C1377.1 1316.6 1374.6 1322.3 1373.8 1324.9 C1373.0 1327.4 1372.3 1329.1 1372.6 1331.5 C1372.9 1333.9 1374.7 1336.2 1375.5 1339.0 C1376.3 1341.8 1377.3 1345.0 1377.1 1348.1 C1377.0 1351.2 1376.2 1354.4 1374.7 1357.3 C1373.1 1360.1 1371.0 1362.6 1368.0 1364.7 C1365.0 1366.9 1361.2 1368.3 1357.2 1369.7 C1353.3 1371.1 1348.6 1371.8 1344.8 1373.0 C1340.9 1374.3 1337.3 1376.1 1334.8 1377.2 C1332.3 1378.3 1330.0 1379.7 1330.0 1379.7 C1330.0 1379.7 1327.7 1378.3 1325.1 1377.2 C1322.6 1376.1 1319.0 1374.3 1315.2 1373.0 C1311.4 1371.8 1306.7 1371.1 1302.7 1369.7 C1298.8 1368.3 1294.9 1366.9 1291.9 1364.7 C1289.0 1362.6 1286.8 1360.1 1285.3 1357.3 C1283.7 1354.4 1282.9 1351.2 1282.8 1348.1 C1282.6 1345.0 1283.7 1341.8 1284.5 1339.0 C1285.2 1336.2 1287.1 1333.9 1287.4 1331.5 C1287.6 1329.1 1286.9 1327.4 1286.1 1324.9 C1285.3 1322.3 1282.8 1316.6 1282.8 1316.6 C1282.8 1316.6 1288.6 1311.6 1291.1 1309.1 C1293.6 1306.5 1296.0 1303.5 1297.7 1301.6 C1299.4 1299.7 1301.1 1297.9 1301.1 1297.9 C1301.1 1297.9 1304.5 1299.7 1306.9 1300.4 C1309.3 1301.1 1312.4 1302.0 1315.2 1302.0 C1318.0 1302.1 1321.0 1301.3 1323.5 1300.8 C1326.0 1300.2 1327.8 1298.7 1330.0 1298.7Z" fill="#9c9c9c"/>
<g transform="translate(1330.0 1339.0) scale(.868 .872) translate(-1330.0 -1339.0)"><path d="M1330.0 1298.7 C1332.2 1298.7 1333.9 1300.2 1336.4 1300.8 C1339.0 1301.3 1341.9 1302.1 1344.8 1302.0 C1347.6 1302.0 1350.7 1301.1 1353.1 1300.4 C1355.5 1299.7 1358.9 1297.9 1358.9 1297.9 C1358.9 1297.9 1360.5 1299.7 1362.2 1301.6 C1363.9 1303.5 1366.3 1306.5 1368.8 1309.1 C1371.4 1311.6 1377.1 1316.6 1377.1 1316.6 C1377.1 1316.6 1374.6 1322.3 1373.8 1324.9 C1373.0 1327.4 1372.3 1329.1 1372.6 1331.5 C1372.9 1333.9 1374.7 1336.2 1375.5 1339.0 C1376.3 1341.8 1377.3 1345.0 1377.1 1348.1 C1377.0 1351.2 1376.2 1354.4 1374.7 1357.3 C1373.1 1360.1 1371.0 1362.6 1368.0 1364.7 C1365.0 1366.9 1361.2 1368.3 1357.2 1369.7 C1353.3 1371.1 1348.6 1371.8 1344.8 1373.0 C1340.9 1374.3 1337.3 1376.1 1334.8 1377.2 C1332.3 1378.3 1330.0 1379.7 1330.0 1379.7 C1330.0 1379.7 1327.7 1378.3 1325.1 1377.2 C1322.6 1376.1 1319.0 1374.3 1315.2 1373.0 C1311.4 1371.8 1306.7 1371.1 1302.7 1369.7 C1298.8 1368.3 1294.9 1366.9 1291.9 1364.7 C1289.0 1362.6 1286.8 1360.1 1285.3 1357.3 C1283.7 1354.4 1282.9 1351.2 1282.8 1348.1 C1282.6 1345.0 1283.7 1341.8 1284.5 1339.0 C1285.2 1336.2 1287.1 1333.9 1287.4 1331.5 C1287.6 1329.1 1286.9 1327.4 1286.1 1324.9 C1285.3 1322.3 1282.8 1316.6 1282.8 1316.6 C1282.8 1316.6 1288.6 1311.6 1291.1 1309.1 C1293.6 1306.5 1296.0 1303.5 1297.7 1301.6 C1299.4 1299.7 1301.1 1297.9 1301.1 1297.9 C1301.1 1297.9 1304.5 1299.7 1306.9 1300.4 C1309.3 1301.1 1312.4 1302.0 1315.2 1302.0 C1318.0 1302.1 1321.0 1301.3 1323.5 1300.8 C1326.0 1300.2 1327.8 1298.7 1330.0 1298.7Z" fill="url(#bg)" stroke="#151515" stroke-width="4.3" stroke-linejoin="round"/></g>
<path d="M1302.4 1328.2 L1303.2 1324.0 L1308.2 1321.5 L1316.1 1321.1 L1316.5 1322.4 L1315.3 1357.3 L1306.5 1358.5 L1305.7 1357.3 L1307.0 1330.3 L1302.8 1330.7Z M1344.8 1322.4 L1345.2 1319.1 L1349.7 1316.1 L1356.8 1315.7 L1357.2 1317.0 L1356.8 1350.6 L1348.9 1352.3 L1348.1 1351.0 L1348.9 1324.0 L1345.2 1324.5Z" fill="#1c1c1c" stroke="#1c1c1c" stroke-width=".6" stroke-linejoin="round"/>
<path d="M1324.8 1321.5 C1325.2 1316.6 1328.1 1314.1 1331.9 1314.1 C1336.4 1314.1 1342.4 1315.7 1342.3 1320.7 L1340.6 1350.6 C1340.2 1356.4 1335.6 1359.2 1330.6 1359.3 C1324.8 1359.3 1319.8 1356.4 1320.2 1351.4Z" fill="#1c1c1c"/>
<path d="M1328.1 1313.7 L1329.1 1313.7 L1328.6 1330.3 L1336.9 1325.7 L1333.5 1359.5 L1332.3 1359.5 L1332.9 1340.8 L1324.0 1345.0Z" fill="#fff"/>
<path d="M1328.1 1311.6 L1329.1 1311.6 L1329.0 1314.2 L1328.0 1314.2Z M1332.5 1359.2 L1333.5 1359.2 L1333.1 1362.7 L1332.1 1362.7Z" fill="#1c1c1c"/>
<text x="1340.2" y="1361.4" font-size="7.6" font-weight="700" fill="#1c1c1c" textLength="17.2" lengthAdjust="spacingAndGlyphs" transform="rotate(-3 1340.2 1361.4)">BIKE</text>
<circle cx="1361.4" cy="1318.6" r=".5" fill="#444"/>
</g>
</svg>
</body></html>
